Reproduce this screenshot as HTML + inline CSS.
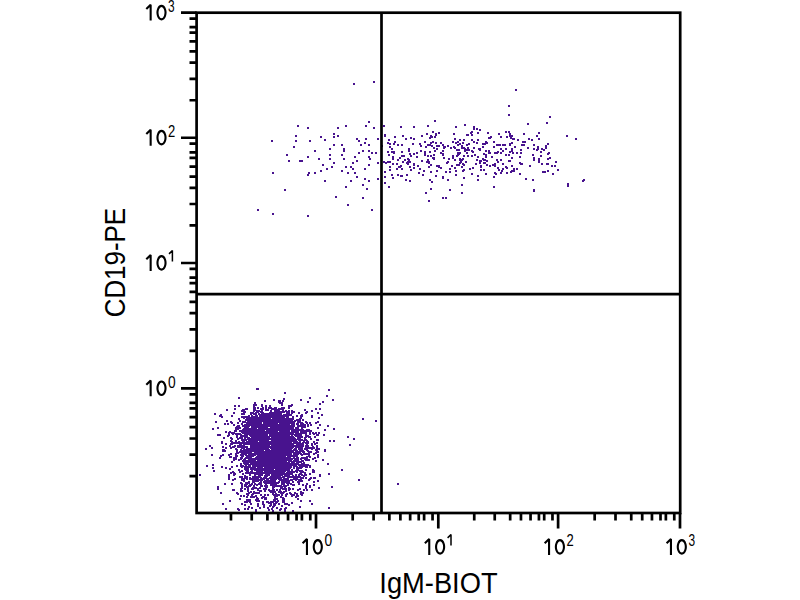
<!DOCTYPE html>
<html><head><meta charset="utf-8"><style>
html,body{margin:0;padding:0;background:#fff;width:800px;height:600px;overflow:hidden}
svg{display:block}
text{font-family:"Liberation Sans",sans-serif;fill:#000}
.big{font-size:22px}
.sup{font-size:15.3px}
.ax{font-size:28.8px}
</style></head><body>
<svg width="800" height="600" viewBox="0 0 800 600">
<path d="M199 474h2v2h-2zM205 448h2v2h-2zM206 465h2v2h-2zM209 445h2v2h-2zM211 447h2v2h-2zM211 454h2v2h-2zM212 428h2v2h-2zM212 464h2v2h-2zM212 467h2v2h-2zM213 470h2v2h-2zM214 413h2v2h-2zM215 421h2v2h-2zM217 427h2v2h-2zM217 434h2v2h-2zM217 486h2v2h-2zM217 488h2v2h-2zM219 415h2v2h-2zM219 434h2v2h-2zM219 457h2v2h-2zM220 414h2v2h-2zM220 455h2v2h-2zM220 492h2v2h-2zM221 416h2v2h-2zM221 441h2v2h-2zM221 442h2v2h-2zM221 466h2v2h-2zM222 446h2v2h-2zM222 449h2v2h-2zM222 450h2v2h-2zM222 454h2v2h-2zM222 503h2v2h-2zM223 437h2v2h-2zM223 449h2v2h-2zM224 423h2v2h-2zM224 450h2v2h-2zM224 483h2v2h-2zM225 431h2v2h-2zM225 443h2v2h-2zM225 447h2v2h-2zM225 467h2v2h-2zM225 508h2v2h-2zM226 409h2v2h-2zM226 420h2v2h-2zM227 423h2v2h-2zM227 435h2v2h-2zM228 432h2v2h-2zM228 434h2v2h-2zM228 454h2v2h-2zM228 474h2v2h-2zM228 476h2v2h-2zM228 478h2v2h-2zM229 431h2v2h-2zM229 445h2v2h-2zM229 456h2v2h-2zM229 468h2v2h-2zM229 500h2v2h-2zM230 421h2v2h-2zM230 437h2v2h-2zM230 440h2v2h-2zM230 443h2v2h-2zM230 447h2v2h-2zM230 453h2v2h-2zM230 456h2v2h-2zM230 472h2v2h-2zM231 415h2v2h-2zM231 422h2v2h-2zM231 432h2v2h-2zM231 438h2v2h-2zM231 441h2v2h-2zM231 443h2v2h-2zM231 461h2v2h-2zM231 466h2v2h-2zM231 483h2v2h-2zM232 433h2v2h-2zM232 446h2v2h-2zM232 471h2v2h-2zM232 479h2v2h-2zM232 489h2v2h-2zM233 412h2v2h-2zM233 424h2v2h-2zM233 432h2v2h-2zM233 442h2v2h-2zM233 446h2v2h-2zM233 457h2v2h-2zM233 459h2v2h-2zM233 472h2v2h-2zM233 474h2v2h-2zM233 489h2v2h-2zM234 405h2v2h-2zM234 408h2v2h-2zM234 430h2v2h-2zM234 445h2v2h-2zM234 457h2v2h-2zM234 473h2v2h-2zM234 478h2v2h-2zM235 427h2v2h-2zM235 428h2v2h-2zM235 430h2v2h-2zM235 433h2v2h-2zM235 440h2v2h-2zM235 441h2v2h-2zM235 442h2v2h-2zM235 448h2v2h-2zM235 453h2v2h-2zM235 455h2v2h-2zM235 456h2v2h-2zM235 458h2v2h-2zM236 426h2v2h-2zM236 434h2v2h-2zM236 436h2v2h-2zM236 449h2v2h-2zM236 451h2v2h-2zM236 455h2v2h-2zM236 465h2v2h-2zM236 492h2v2h-2zM237 422h2v2h-2zM237 425h2v2h-2zM237 428h2v2h-2zM237 433h2v2h-2zM237 438h2v2h-2zM237 442h2v2h-2zM237 445h2v2h-2zM237 446h2v2h-2zM237 452h2v2h-2zM237 493h2v2h-2zM237 508h2v2h-2zM238 397h2v2h-2zM238 405h2v2h-2zM238 418h2v2h-2zM238 425h2v2h-2zM238 426h2v2h-2zM238 441h2v2h-2zM238 459h2v2h-2zM238 469h2v2h-2zM238 509h2v2h-2zM239 420h2v2h-2zM239 427h2v2h-2zM239 430h2v2h-2zM239 433h2v2h-2zM239 437h2v2h-2zM239 442h2v2h-2zM239 443h2v2h-2zM239 445h2v2h-2zM239 446h2v2h-2zM239 451h2v2h-2zM239 471h2v2h-2zM239 476h2v2h-2zM239 498h2v2h-2zM240 430h2v2h-2zM240 434h2v2h-2zM240 435h2v2h-2zM240 442h2v2h-2zM240 443h2v2h-2zM240 444h2v2h-2zM240 446h2v2h-2zM240 449h2v2h-2zM240 454h2v2h-2zM240 457h2v2h-2zM240 458h2v2h-2zM240 463h2v2h-2zM240 464h2v2h-2zM240 465h2v2h-2zM240 482h2v2h-2zM240 488h2v2h-2zM240 490h2v2h-2zM240 495h2v2h-2zM241 410h2v2h-2zM241 413h2v2h-2zM241 416h2v2h-2zM241 423h2v2h-2zM241 430h2v2h-2zM241 431h2v2h-2zM241 435h2v2h-2zM241 436h2v2h-2zM241 437h2v2h-2zM241 438h2v2h-2zM241 439h2v2h-2zM241 447h2v2h-2zM241 450h2v2h-2zM241 452h2v2h-2zM241 456h2v2h-2zM241 457h2v2h-2zM241 466h2v2h-2zM241 470h2v2h-2zM241 476h2v2h-2zM241 478h2v2h-2zM241 479h2v2h-2zM241 483h2v2h-2zM241 485h2v2h-2zM241 487h2v2h-2zM241 490h2v2h-2zM241 503h2v2h-2zM242 409h2v2h-2zM242 421h2v2h-2zM242 425h2v2h-2zM242 429h2v2h-2zM242 430h2v2h-2zM242 431h2v2h-2zM242 432h2v2h-2zM242 435h2v2h-2zM242 439h2v2h-2zM242 440h2v2h-2zM242 441h2v2h-2zM242 442h2v2h-2zM242 445h2v2h-2zM242 446h2v2h-2zM242 447h2v2h-2zM242 450h2v2h-2zM242 453h2v2h-2zM242 455h2v2h-2zM242 460h2v2h-2zM242 465h2v2h-2zM242 473h2v2h-2zM243 409h2v2h-2zM243 411h2v2h-2zM243 413h2v2h-2zM243 416h2v2h-2zM243 417h2v2h-2zM243 428h2v2h-2zM243 430h2v2h-2zM243 440h2v2h-2zM243 441h2v2h-2zM243 444h2v2h-2zM243 446h2v2h-2zM243 448h2v2h-2zM243 449h2v2h-2zM243 452h2v2h-2zM243 453h2v2h-2zM243 459h2v2h-2zM243 460h2v2h-2zM243 462h2v2h-2zM243 478h2v2h-2zM243 480h2v2h-2zM243 495h2v2h-2zM244 411h2v2h-2zM244 421h2v2h-2zM244 424h2v2h-2zM244 426h2v2h-2zM244 427h2v2h-2zM244 431h2v2h-2zM244 432h2v2h-2zM244 434h2v2h-2zM244 436h2v2h-2zM244 438h2v2h-2zM244 442h2v2h-2zM244 443h2v2h-2zM244 450h2v2h-2zM244 452h2v2h-2zM244 458h2v2h-2zM244 460h2v2h-2zM244 461h2v2h-2zM244 462h2v2h-2zM244 463h2v2h-2zM244 466h2v2h-2zM244 468h2v2h-2zM244 475h2v2h-2zM244 477h2v2h-2zM244 484h2v2h-2zM244 485h2v2h-2zM244 488h2v2h-2zM244 501h2v2h-2zM244 504h2v2h-2zM244 508h2v2h-2zM245 408h2v2h-2zM245 416h2v2h-2zM245 419h2v2h-2zM245 424h2v2h-2zM245 425h2v2h-2zM245 426h2v2h-2zM245 429h2v2h-2zM245 431h2v2h-2zM245 434h2v2h-2zM245 436h2v2h-2zM245 439h2v2h-2zM245 443h2v2h-2zM245 446h2v2h-2zM245 449h2v2h-2zM245 450h2v2h-2zM245 451h2v2h-2zM245 454h2v2h-2zM245 457h2v2h-2zM245 460h2v2h-2zM245 464h2v2h-2zM245 466h2v2h-2zM245 467h2v2h-2zM245 468h2v2h-2zM245 469h2v2h-2zM245 472h2v2h-2zM245 482h2v2h-2zM245 484h2v2h-2zM246 408h2v2h-2zM246 417h2v2h-2zM246 422h2v2h-2zM246 423h2v2h-2zM246 424h2v2h-2zM246 425h2v2h-2zM246 427h2v2h-2zM246 428h2v2h-2zM246 429h2v2h-2zM246 430h2v2h-2zM246 432h2v2h-2zM246 433h2v2h-2zM246 434h2v2h-2zM246 435h2v2h-2zM246 436h2v2h-2zM246 441h2v2h-2zM246 442h2v2h-2zM246 443h2v2h-2zM246 446h2v2h-2zM246 447h2v2h-2zM246 449h2v2h-2zM246 450h2v2h-2zM246 451h2v2h-2zM246 452h2v2h-2zM246 455h2v2h-2zM246 457h2v2h-2zM246 460h2v2h-2zM246 462h2v2h-2zM246 463h2v2h-2zM246 467h2v2h-2zM246 470h2v2h-2zM246 472h2v2h-2zM246 476h2v2h-2zM246 478h2v2h-2zM246 483h2v2h-2zM246 486h2v2h-2zM246 493h2v2h-2zM246 496h2v2h-2zM246 499h2v2h-2zM246 501h2v2h-2zM247 416h2v2h-2zM247 417h2v2h-2zM247 419h2v2h-2zM247 420h2v2h-2zM247 423h2v2h-2zM247 425h2v2h-2zM247 427h2v2h-2zM247 430h2v2h-2zM247 431h2v2h-2zM247 438h2v2h-2zM247 442h2v2h-2zM247 443h2v2h-2zM247 449h2v2h-2zM247 450h2v2h-2zM247 452h2v2h-2zM247 455h2v2h-2zM247 456h2v2h-2zM247 457h2v2h-2zM247 461h2v2h-2zM247 462h2v2h-2zM247 463h2v2h-2zM247 466h2v2h-2zM247 467h2v2h-2zM247 469h2v2h-2zM247 470h2v2h-2zM247 471h2v2h-2zM247 472h2v2h-2zM247 482h2v2h-2zM247 486h2v2h-2zM247 488h2v2h-2zM247 490h2v2h-2zM247 494h2v2h-2zM247 499h2v2h-2zM247 500h2v2h-2zM247 508h2v2h-2zM248 415h2v2h-2zM248 417h2v2h-2zM248 420h2v2h-2zM248 422h2v2h-2zM248 425h2v2h-2zM248 429h2v2h-2zM248 430h2v2h-2zM248 431h2v2h-2zM248 433h2v2h-2zM248 437h2v2h-2zM248 438h2v2h-2zM248 440h2v2h-2zM248 442h2v2h-2zM248 448h2v2h-2zM248 449h2v2h-2zM248 450h2v2h-2zM248 451h2v2h-2zM248 452h2v2h-2zM248 453h2v2h-2zM248 454h2v2h-2zM248 455h2v2h-2zM248 456h2v2h-2zM248 457h2v2h-2zM248 459h2v2h-2zM248 460h2v2h-2zM248 464h2v2h-2zM248 465h2v2h-2zM248 481h2v2h-2zM248 482h2v2h-2zM248 485h2v2h-2zM248 492h2v2h-2zM248 506h2v2h-2zM249 417h2v2h-2zM249 418h2v2h-2zM249 422h2v2h-2zM249 423h2v2h-2zM249 428h2v2h-2zM249 429h2v2h-2zM249 430h2v2h-2zM249 433h2v2h-2zM249 434h2v2h-2zM249 438h2v2h-2zM249 439h2v2h-2zM249 443h2v2h-2zM249 448h2v2h-2zM249 449h2v2h-2zM249 451h2v2h-2zM249 453h2v2h-2zM249 454h2v2h-2zM249 455h2v2h-2zM249 456h2v2h-2zM249 457h2v2h-2zM249 460h2v2h-2zM249 461h2v2h-2zM249 464h2v2h-2zM249 465h2v2h-2zM249 466h2v2h-2zM249 472h2v2h-2zM249 473h2v2h-2zM249 474h2v2h-2zM249 477h2v2h-2zM249 478h2v2h-2zM249 484h2v2h-2zM249 485h2v2h-2zM249 499h2v2h-2zM249 501h2v2h-2zM250 412h2v2h-2zM250 413h2v2h-2zM250 418h2v2h-2zM250 420h2v2h-2zM250 421h2v2h-2zM250 422h2v2h-2zM250 423h2v2h-2zM250 424h2v2h-2zM250 428h2v2h-2zM250 429h2v2h-2zM250 430h2v2h-2zM250 431h2v2h-2zM250 435h2v2h-2zM250 441h2v2h-2zM250 445h2v2h-2zM250 446h2v2h-2zM250 448h2v2h-2zM250 450h2v2h-2zM250 451h2v2h-2zM250 453h2v2h-2zM250 455h2v2h-2zM250 456h2v2h-2zM250 457h2v2h-2zM250 458h2v2h-2zM250 460h2v2h-2zM250 461h2v2h-2zM250 463h2v2h-2zM250 468h2v2h-2zM250 471h2v2h-2zM250 472h2v2h-2zM250 484h2v2h-2zM250 491h2v2h-2zM250 496h2v2h-2zM250 503h2v2h-2zM251 415h2v2h-2zM251 416h2v2h-2zM251 419h2v2h-2zM251 421h2v2h-2zM251 423h2v2h-2zM251 425h2v2h-2zM251 426h2v2h-2zM251 428h2v2h-2zM251 429h2v2h-2zM251 430h2v2h-2zM251 432h2v2h-2zM251 433h2v2h-2zM251 434h2v2h-2zM251 437h2v2h-2zM251 438h2v2h-2zM251 440h2v2h-2zM251 441h2v2h-2zM251 442h2v2h-2zM251 443h2v2h-2zM251 445h2v2h-2zM251 446h2v2h-2zM251 447h2v2h-2zM251 448h2v2h-2zM251 455h2v2h-2zM251 458h2v2h-2zM251 460h2v2h-2zM251 461h2v2h-2zM251 462h2v2h-2zM251 467h2v2h-2zM251 470h2v2h-2zM251 472h2v2h-2zM251 478h2v2h-2zM251 483h2v2h-2zM251 488h2v2h-2zM251 494h2v2h-2zM251 496h2v2h-2zM251 507h2v2h-2zM252 412h2v2h-2zM252 416h2v2h-2zM252 417h2v2h-2zM252 418h2v2h-2zM252 420h2v2h-2zM252 421h2v2h-2zM252 423h2v2h-2zM252 425h2v2h-2zM252 426h2v2h-2zM252 429h2v2h-2zM252 430h2v2h-2zM252 431h2v2h-2zM252 432h2v2h-2zM252 433h2v2h-2zM252 434h2v2h-2zM252 435h2v2h-2zM252 436h2v2h-2zM252 439h2v2h-2zM252 440h2v2h-2zM252 442h2v2h-2zM252 443h2v2h-2zM252 445h2v2h-2zM252 446h2v2h-2zM252 447h2v2h-2zM252 448h2v2h-2zM252 450h2v2h-2zM252 453h2v2h-2zM252 454h2v2h-2zM252 455h2v2h-2zM252 458h2v2h-2zM252 459h2v2h-2zM252 461h2v2h-2zM252 462h2v2h-2zM252 464h2v2h-2zM252 465h2v2h-2zM252 466h2v2h-2zM252 467h2v2h-2zM252 468h2v2h-2zM252 476h2v2h-2zM252 480h2v2h-2zM252 481h2v2h-2zM252 487h2v2h-2zM252 488h2v2h-2zM252 493h2v2h-2zM253 404h2v2h-2zM253 406h2v2h-2zM253 407h2v2h-2zM253 408h2v2h-2zM253 410h2v2h-2zM253 413h2v2h-2zM253 416h2v2h-2zM253 417h2v2h-2zM253 418h2v2h-2zM253 419h2v2h-2zM253 420h2v2h-2zM253 421h2v2h-2zM253 422h2v2h-2zM253 423h2v2h-2zM253 424h2v2h-2zM253 426h2v2h-2zM253 427h2v2h-2zM253 429h2v2h-2zM253 431h2v2h-2zM253 432h2v2h-2zM253 435h2v2h-2zM253 436h2v2h-2zM253 437h2v2h-2zM253 438h2v2h-2zM253 443h2v2h-2zM253 444h2v2h-2zM253 445h2v2h-2zM253 446h2v2h-2zM253 447h2v2h-2zM253 453h2v2h-2zM253 454h2v2h-2zM253 459h2v2h-2zM253 463h2v2h-2zM253 468h2v2h-2zM253 472h2v2h-2zM253 477h2v2h-2zM253 479h2v2h-2zM253 480h2v2h-2zM253 481h2v2h-2zM253 485h2v2h-2zM253 487h2v2h-2zM253 491h2v2h-2zM253 496h2v2h-2zM254 402h2v2h-2zM254 407h2v2h-2zM254 409h2v2h-2zM254 417h2v2h-2zM254 418h2v2h-2zM254 420h2v2h-2zM254 422h2v2h-2zM254 423h2v2h-2zM254 424h2v2h-2zM254 425h2v2h-2zM254 426h2v2h-2zM254 428h2v2h-2zM254 429h2v2h-2zM254 430h2v2h-2zM254 432h2v2h-2zM254 433h2v2h-2zM254 434h2v2h-2zM254 435h2v2h-2zM254 436h2v2h-2zM254 437h2v2h-2zM254 439h2v2h-2zM254 440h2v2h-2zM254 441h2v2h-2zM254 442h2v2h-2zM254 443h2v2h-2zM254 445h2v2h-2zM254 446h2v2h-2zM254 447h2v2h-2zM254 448h2v2h-2zM254 450h2v2h-2zM254 451h2v2h-2zM254 452h2v2h-2zM254 453h2v2h-2zM254 454h2v2h-2zM254 458h2v2h-2zM254 459h2v2h-2zM254 461h2v2h-2zM254 462h2v2h-2zM254 463h2v2h-2zM254 464h2v2h-2zM254 466h2v2h-2zM254 467h2v2h-2zM254 468h2v2h-2zM254 469h2v2h-2zM254 474h2v2h-2zM254 476h2v2h-2zM254 477h2v2h-2zM254 483h2v2h-2zM254 492h2v2h-2zM255 404h2v2h-2zM255 412h2v2h-2zM255 413h2v2h-2zM255 414h2v2h-2zM255 416h2v2h-2zM255 420h2v2h-2zM255 421h2v2h-2zM255 422h2v2h-2zM255 424h2v2h-2zM255 425h2v2h-2zM255 426h2v2h-2zM255 428h2v2h-2zM255 430h2v2h-2zM255 431h2v2h-2zM255 433h2v2h-2zM255 434h2v2h-2zM255 438h2v2h-2zM255 439h2v2h-2zM255 442h2v2h-2zM255 443h2v2h-2zM255 444h2v2h-2zM255 445h2v2h-2zM255 446h2v2h-2zM255 449h2v2h-2zM255 450h2v2h-2zM255 451h2v2h-2zM255 452h2v2h-2zM255 457h2v2h-2zM255 463h2v2h-2zM255 464h2v2h-2zM255 465h2v2h-2zM255 468h2v2h-2zM255 469h2v2h-2zM255 472h2v2h-2zM255 476h2v2h-2zM255 478h2v2h-2zM255 479h2v2h-2zM255 480h2v2h-2zM255 487h2v2h-2zM255 495h2v2h-2zM255 499h2v2h-2zM255 509h2v2h-2zM255 510h2v2h-2zM256 388h2v2h-2zM256 410h2v2h-2zM256 415h2v2h-2zM256 417h2v2h-2zM256 419h2v2h-2zM256 420h2v2h-2zM256 421h2v2h-2zM256 422h2v2h-2zM256 424h2v2h-2zM256 425h2v2h-2zM256 429h2v2h-2zM256 430h2v2h-2zM256 432h2v2h-2zM256 433h2v2h-2zM256 434h2v2h-2zM256 435h2v2h-2zM256 436h2v2h-2zM256 438h2v2h-2zM256 439h2v2h-2zM256 440h2v2h-2zM256 444h2v2h-2zM256 446h2v2h-2zM256 447h2v2h-2zM256 450h2v2h-2zM256 452h2v2h-2zM256 453h2v2h-2zM256 456h2v2h-2zM256 457h2v2h-2zM256 458h2v2h-2zM256 461h2v2h-2zM256 462h2v2h-2zM256 463h2v2h-2zM256 468h2v2h-2zM256 471h2v2h-2zM256 472h2v2h-2zM256 473h2v2h-2zM256 476h2v2h-2zM256 477h2v2h-2zM256 478h2v2h-2zM256 480h2v2h-2zM256 484h2v2h-2zM256 492h2v2h-2zM256 497h2v2h-2zM256 500h2v2h-2zM257 209h2v2h-2zM257 388h2v2h-2zM257 407h2v2h-2zM257 411h2v2h-2zM257 418h2v2h-2zM257 420h2v2h-2zM257 421h2v2h-2zM257 423h2v2h-2zM257 425h2v2h-2zM257 426h2v2h-2zM257 429h2v2h-2zM257 431h2v2h-2zM257 432h2v2h-2zM257 434h2v2h-2zM257 435h2v2h-2zM257 437h2v2h-2zM257 438h2v2h-2zM257 442h2v2h-2zM257 443h2v2h-2zM257 444h2v2h-2zM257 446h2v2h-2zM257 448h2v2h-2zM257 449h2v2h-2zM257 451h2v2h-2zM257 452h2v2h-2zM257 454h2v2h-2zM257 455h2v2h-2zM257 456h2v2h-2zM257 457h2v2h-2zM257 458h2v2h-2zM257 459h2v2h-2zM257 460h2v2h-2zM257 463h2v2h-2zM257 464h2v2h-2zM257 465h2v2h-2zM257 467h2v2h-2zM257 469h2v2h-2zM257 478h2v2h-2zM257 479h2v2h-2zM257 480h2v2h-2zM257 488h2v2h-2zM257 489h2v2h-2zM257 498h2v2h-2zM257 503h2v2h-2zM257 505h2v2h-2zM258 410h2v2h-2zM258 413h2v2h-2zM258 417h2v2h-2zM258 418h2v2h-2zM258 419h2v2h-2zM258 420h2v2h-2zM258 421h2v2h-2zM258 423h2v2h-2zM258 428h2v2h-2zM258 430h2v2h-2zM258 431h2v2h-2zM258 433h2v2h-2zM258 435h2v2h-2zM258 436h2v2h-2zM258 437h2v2h-2zM258 438h2v2h-2zM258 439h2v2h-2zM258 442h2v2h-2zM258 443h2v2h-2zM258 444h2v2h-2zM258 446h2v2h-2zM258 448h2v2h-2zM258 449h2v2h-2zM258 452h2v2h-2zM258 455h2v2h-2zM258 456h2v2h-2zM258 461h2v2h-2zM258 463h2v2h-2zM258 464h2v2h-2zM258 465h2v2h-2zM258 466h2v2h-2zM258 467h2v2h-2zM258 470h2v2h-2zM258 471h2v2h-2zM258 473h2v2h-2zM258 474h2v2h-2zM258 476h2v2h-2zM258 483h2v2h-2zM258 492h2v2h-2zM258 500h2v2h-2zM259 414h2v2h-2zM259 416h2v2h-2zM259 417h2v2h-2zM259 418h2v2h-2zM259 419h2v2h-2zM259 420h2v2h-2zM259 422h2v2h-2zM259 425h2v2h-2zM259 426h2v2h-2zM259 427h2v2h-2zM259 428h2v2h-2zM259 430h2v2h-2zM259 431h2v2h-2zM259 432h2v2h-2zM259 433h2v2h-2zM259 434h2v2h-2zM259 435h2v2h-2zM259 438h2v2h-2zM259 439h2v2h-2zM259 440h2v2h-2zM259 441h2v2h-2zM259 442h2v2h-2zM259 443h2v2h-2zM259 445h2v2h-2zM259 448h2v2h-2zM259 449h2v2h-2zM259 451h2v2h-2zM259 454h2v2h-2zM259 456h2v2h-2zM259 458h2v2h-2zM259 459h2v2h-2zM259 460h2v2h-2zM259 461h2v2h-2zM259 462h2v2h-2zM259 463h2v2h-2zM259 464h2v2h-2zM259 465h2v2h-2zM259 467h2v2h-2zM259 468h2v2h-2zM259 469h2v2h-2zM259 470h2v2h-2zM259 472h2v2h-2zM259 474h2v2h-2zM259 476h2v2h-2zM259 479h2v2h-2zM259 482h2v2h-2zM259 487h2v2h-2zM259 490h2v2h-2zM259 507h2v2h-2zM260 408h2v2h-2zM260 411h2v2h-2zM260 414h2v2h-2zM260 415h2v2h-2zM260 416h2v2h-2zM260 422h2v2h-2zM260 423h2v2h-2zM260 424h2v2h-2zM260 425h2v2h-2zM260 427h2v2h-2zM260 428h2v2h-2zM260 429h2v2h-2zM260 433h2v2h-2zM260 434h2v2h-2zM260 435h2v2h-2zM260 437h2v2h-2zM260 438h2v2h-2zM260 439h2v2h-2zM260 440h2v2h-2zM260 441h2v2h-2zM260 444h2v2h-2zM260 445h2v2h-2zM260 446h2v2h-2zM260 447h2v2h-2zM260 448h2v2h-2zM260 450h2v2h-2zM260 451h2v2h-2zM260 452h2v2h-2zM260 453h2v2h-2zM260 455h2v2h-2zM260 456h2v2h-2zM260 457h2v2h-2zM260 458h2v2h-2zM260 461h2v2h-2zM260 463h2v2h-2zM260 464h2v2h-2zM260 468h2v2h-2zM260 469h2v2h-2zM260 470h2v2h-2zM260 471h2v2h-2zM260 473h2v2h-2zM260 477h2v2h-2zM260 481h2v2h-2zM260 483h2v2h-2zM260 485h2v2h-2zM260 490h2v2h-2zM260 494h2v2h-2zM261 404h2v2h-2zM261 405h2v2h-2zM261 410h2v2h-2zM261 412h2v2h-2zM261 413h2v2h-2zM261 415h2v2h-2zM261 416h2v2h-2zM261 418h2v2h-2zM261 419h2v2h-2zM261 420h2v2h-2zM261 424h2v2h-2zM261 425h2v2h-2zM261 427h2v2h-2zM261 429h2v2h-2zM261 430h2v2h-2zM261 431h2v2h-2zM261 434h2v2h-2zM261 436h2v2h-2zM261 437h2v2h-2zM261 438h2v2h-2zM261 439h2v2h-2zM261 440h2v2h-2zM261 443h2v2h-2zM261 445h2v2h-2zM261 446h2v2h-2zM261 447h2v2h-2zM261 448h2v2h-2zM261 449h2v2h-2zM261 451h2v2h-2zM261 452h2v2h-2zM261 453h2v2h-2zM261 454h2v2h-2zM261 455h2v2h-2zM261 456h2v2h-2zM261 457h2v2h-2zM261 459h2v2h-2zM261 460h2v2h-2zM261 461h2v2h-2zM261 462h2v2h-2zM261 463h2v2h-2zM261 464h2v2h-2zM261 465h2v2h-2zM261 467h2v2h-2zM261 471h2v2h-2zM261 474h2v2h-2zM261 479h2v2h-2zM261 485h2v2h-2zM261 497h2v2h-2zM262 407h2v2h-2zM262 408h2v2h-2zM262 412h2v2h-2zM262 417h2v2h-2zM262 418h2v2h-2zM262 420h2v2h-2zM262 424h2v2h-2zM262 425h2v2h-2zM262 426h2v2h-2zM262 427h2v2h-2zM262 428h2v2h-2zM262 429h2v2h-2zM262 430h2v2h-2zM262 431h2v2h-2zM262 432h2v2h-2zM262 433h2v2h-2zM262 434h2v2h-2zM262 436h2v2h-2zM262 437h2v2h-2zM262 439h2v2h-2zM262 440h2v2h-2zM262 441h2v2h-2zM262 443h2v2h-2zM262 444h2v2h-2zM262 445h2v2h-2zM262 446h2v2h-2zM262 447h2v2h-2zM262 448h2v2h-2zM262 449h2v2h-2zM262 450h2v2h-2zM262 451h2v2h-2zM262 452h2v2h-2zM262 453h2v2h-2zM262 454h2v2h-2zM262 455h2v2h-2zM262 456h2v2h-2zM262 457h2v2h-2zM262 458h2v2h-2zM262 468h2v2h-2zM262 469h2v2h-2zM262 472h2v2h-2zM262 478h2v2h-2zM262 496h2v2h-2zM262 501h2v2h-2zM262 503h2v2h-2zM263 413h2v2h-2zM263 414h2v2h-2zM263 415h2v2h-2zM263 416h2v2h-2zM263 417h2v2h-2zM263 418h2v2h-2zM263 421h2v2h-2zM263 423h2v2h-2zM263 424h2v2h-2zM263 425h2v2h-2zM263 426h2v2h-2zM263 427h2v2h-2zM263 429h2v2h-2zM263 430h2v2h-2zM263 431h2v2h-2zM263 432h2v2h-2zM263 434h2v2h-2zM263 435h2v2h-2zM263 437h2v2h-2zM263 439h2v2h-2zM263 441h2v2h-2zM263 442h2v2h-2zM263 444h2v2h-2zM263 445h2v2h-2zM263 446h2v2h-2zM263 448h2v2h-2zM263 451h2v2h-2zM263 452h2v2h-2zM263 453h2v2h-2zM263 454h2v2h-2zM263 455h2v2h-2zM263 456h2v2h-2zM263 457h2v2h-2zM263 458h2v2h-2zM263 460h2v2h-2zM263 461h2v2h-2zM263 462h2v2h-2zM263 464h2v2h-2zM263 465h2v2h-2zM263 468h2v2h-2zM263 477h2v2h-2zM263 478h2v2h-2zM263 481h2v2h-2zM263 488h2v2h-2zM263 496h2v2h-2zM263 504h2v2h-2zM263 505h2v2h-2zM263 506h2v2h-2zM264 400h2v2h-2zM264 413h2v2h-2zM264 414h2v2h-2zM264 415h2v2h-2zM264 418h2v2h-2zM264 420h2v2h-2zM264 421h2v2h-2zM264 422h2v2h-2zM264 423h2v2h-2zM264 426h2v2h-2zM264 428h2v2h-2zM264 431h2v2h-2zM264 433h2v2h-2zM264 434h2v2h-2zM264 435h2v2h-2zM264 436h2v2h-2zM264 437h2v2h-2zM264 439h2v2h-2zM264 440h2v2h-2zM264 442h2v2h-2zM264 443h2v2h-2zM264 447h2v2h-2zM264 451h2v2h-2zM264 452h2v2h-2zM264 453h2v2h-2zM264 454h2v2h-2zM264 455h2v2h-2zM264 456h2v2h-2zM264 457h2v2h-2zM264 458h2v2h-2zM264 459h2v2h-2zM264 461h2v2h-2zM264 463h2v2h-2zM264 466h2v2h-2zM264 467h2v2h-2zM264 468h2v2h-2zM264 470h2v2h-2zM264 471h2v2h-2zM264 472h2v2h-2zM264 475h2v2h-2zM264 477h2v2h-2zM264 480h2v2h-2zM264 481h2v2h-2zM264 482h2v2h-2zM264 485h2v2h-2zM264 490h2v2h-2zM264 494h2v2h-2zM264 498h2v2h-2zM265 405h2v2h-2zM265 407h2v2h-2zM265 409h2v2h-2zM265 413h2v2h-2zM265 416h2v2h-2zM265 419h2v2h-2zM265 423h2v2h-2zM265 424h2v2h-2zM265 426h2v2h-2zM265 427h2v2h-2zM265 428h2v2h-2zM265 431h2v2h-2zM265 433h2v2h-2zM265 434h2v2h-2zM265 435h2v2h-2zM265 436h2v2h-2zM265 438h2v2h-2zM265 439h2v2h-2zM265 440h2v2h-2zM265 441h2v2h-2zM265 442h2v2h-2zM265 443h2v2h-2zM265 444h2v2h-2zM265 446h2v2h-2zM265 447h2v2h-2zM265 449h2v2h-2zM265 450h2v2h-2zM265 451h2v2h-2zM265 452h2v2h-2zM265 453h2v2h-2zM265 454h2v2h-2zM265 456h2v2h-2zM265 457h2v2h-2zM265 458h2v2h-2zM265 460h2v2h-2zM265 461h2v2h-2zM265 463h2v2h-2zM265 464h2v2h-2zM265 465h2v2h-2zM265 466h2v2h-2zM265 467h2v2h-2zM265 468h2v2h-2zM265 471h2v2h-2zM265 472h2v2h-2zM265 473h2v2h-2zM265 474h2v2h-2zM265 476h2v2h-2zM265 477h2v2h-2zM265 480h2v2h-2zM265 481h2v2h-2zM265 482h2v2h-2zM265 483h2v2h-2zM265 484h2v2h-2zM265 486h2v2h-2zM265 488h2v2h-2zM265 497h2v2h-2zM265 498h2v2h-2zM266 414h2v2h-2zM266 418h2v2h-2zM266 419h2v2h-2zM266 421h2v2h-2zM266 422h2v2h-2zM266 423h2v2h-2zM266 424h2v2h-2zM266 426h2v2h-2zM266 427h2v2h-2zM266 428h2v2h-2zM266 430h2v2h-2zM266 431h2v2h-2zM266 432h2v2h-2zM266 434h2v2h-2zM266 435h2v2h-2zM266 436h2v2h-2zM266 437h2v2h-2zM266 438h2v2h-2zM266 440h2v2h-2zM266 441h2v2h-2zM266 442h2v2h-2zM266 443h2v2h-2zM266 445h2v2h-2zM266 446h2v2h-2zM266 447h2v2h-2zM266 448h2v2h-2zM266 450h2v2h-2zM266 451h2v2h-2zM266 452h2v2h-2zM266 453h2v2h-2zM266 454h2v2h-2zM266 455h2v2h-2zM266 457h2v2h-2zM266 458h2v2h-2zM266 459h2v2h-2zM266 460h2v2h-2zM266 461h2v2h-2zM266 462h2v2h-2zM266 463h2v2h-2zM266 466h2v2h-2zM266 467h2v2h-2zM266 470h2v2h-2zM266 473h2v2h-2zM266 474h2v2h-2zM266 475h2v2h-2zM266 479h2v2h-2zM266 480h2v2h-2zM266 485h2v2h-2zM266 486h2v2h-2zM266 501h2v2h-2zM267 409h2v2h-2zM267 413h2v2h-2zM267 415h2v2h-2zM267 417h2v2h-2zM267 418h2v2h-2zM267 419h2v2h-2zM267 420h2v2h-2zM267 421h2v2h-2zM267 423h2v2h-2zM267 424h2v2h-2zM267 428h2v2h-2zM267 429h2v2h-2zM267 432h2v2h-2zM267 436h2v2h-2zM267 437h2v2h-2zM267 438h2v2h-2zM267 440h2v2h-2zM267 441h2v2h-2zM267 442h2v2h-2zM267 443h2v2h-2zM267 445h2v2h-2zM267 446h2v2h-2zM267 447h2v2h-2zM267 448h2v2h-2zM267 449h2v2h-2zM267 451h2v2h-2zM267 452h2v2h-2zM267 454h2v2h-2zM267 456h2v2h-2zM267 458h2v2h-2zM267 460h2v2h-2zM267 461h2v2h-2zM267 462h2v2h-2zM267 464h2v2h-2zM267 466h2v2h-2zM267 467h2v2h-2zM267 468h2v2h-2zM267 470h2v2h-2zM267 471h2v2h-2zM267 472h2v2h-2zM267 474h2v2h-2zM267 478h2v2h-2zM267 480h2v2h-2zM267 481h2v2h-2zM267 482h2v2h-2zM267 494h2v2h-2zM267 501h2v2h-2zM267 507h2v2h-2zM268 407h2v2h-2zM268 415h2v2h-2zM268 416h2v2h-2zM268 417h2v2h-2zM268 419h2v2h-2zM268 420h2v2h-2zM268 421h2v2h-2zM268 423h2v2h-2zM268 424h2v2h-2zM268 425h2v2h-2zM268 428h2v2h-2zM268 429h2v2h-2zM268 430h2v2h-2zM268 436h2v2h-2zM268 437h2v2h-2zM268 438h2v2h-2zM268 441h2v2h-2zM268 442h2v2h-2zM268 443h2v2h-2zM268 444h2v2h-2zM268 445h2v2h-2zM268 446h2v2h-2zM268 449h2v2h-2zM268 450h2v2h-2zM268 451h2v2h-2zM268 452h2v2h-2zM268 454h2v2h-2zM268 455h2v2h-2zM268 456h2v2h-2zM268 457h2v2h-2zM268 458h2v2h-2zM268 459h2v2h-2zM268 463h2v2h-2zM268 464h2v2h-2zM268 465h2v2h-2zM268 466h2v2h-2zM268 468h2v2h-2zM268 469h2v2h-2zM268 470h2v2h-2zM268 472h2v2h-2zM268 473h2v2h-2zM268 474h2v2h-2zM268 480h2v2h-2zM268 489h2v2h-2zM268 502h2v2h-2zM268 509h2v2h-2zM269 405h2v2h-2zM269 412h2v2h-2zM269 413h2v2h-2zM269 415h2v2h-2zM269 416h2v2h-2zM269 417h2v2h-2zM269 420h2v2h-2zM269 421h2v2h-2zM269 422h2v2h-2zM269 423h2v2h-2zM269 425h2v2h-2zM269 428h2v2h-2zM269 429h2v2h-2zM269 430h2v2h-2zM269 431h2v2h-2zM269 432h2v2h-2zM269 433h2v2h-2zM269 434h2v2h-2zM269 435h2v2h-2zM269 438h2v2h-2zM269 443h2v2h-2zM269 450h2v2h-2zM269 455h2v2h-2zM269 456h2v2h-2zM269 459h2v2h-2zM269 460h2v2h-2zM269 461h2v2h-2zM269 466h2v2h-2zM269 467h2v2h-2zM269 469h2v2h-2zM269 470h2v2h-2zM269 477h2v2h-2zM269 480h2v2h-2zM269 482h2v2h-2zM269 490h2v2h-2zM269 505h2v2h-2zM270 407h2v2h-2zM270 410h2v2h-2zM270 413h2v2h-2zM270 414h2v2h-2zM270 416h2v2h-2zM270 419h2v2h-2zM270 421h2v2h-2zM270 422h2v2h-2zM270 425h2v2h-2zM270 426h2v2h-2zM270 427h2v2h-2zM270 428h2v2h-2zM270 429h2v2h-2zM270 430h2v2h-2zM270 431h2v2h-2zM270 433h2v2h-2zM270 434h2v2h-2zM270 435h2v2h-2zM270 438h2v2h-2zM270 441h2v2h-2zM270 442h2v2h-2zM270 446h2v2h-2zM270 447h2v2h-2zM270 451h2v2h-2zM270 452h2v2h-2zM270 453h2v2h-2zM270 454h2v2h-2zM270 455h2v2h-2zM270 456h2v2h-2zM270 458h2v2h-2zM270 459h2v2h-2zM270 462h2v2h-2zM270 463h2v2h-2zM270 465h2v2h-2zM270 466h2v2h-2zM270 468h2v2h-2zM270 470h2v2h-2zM270 472h2v2h-2zM270 476h2v2h-2zM270 477h2v2h-2zM270 479h2v2h-2zM270 481h2v2h-2zM270 483h2v2h-2zM270 484h2v2h-2zM270 491h2v2h-2zM270 501h2v2h-2zM270 502h2v2h-2zM270 504h2v2h-2zM271 140h2v2h-2zM271 408h2v2h-2zM271 412h2v2h-2zM271 415h2v2h-2zM271 420h2v2h-2zM271 423h2v2h-2zM271 424h2v2h-2zM271 425h2v2h-2zM271 427h2v2h-2zM271 429h2v2h-2zM271 430h2v2h-2zM271 432h2v2h-2zM271 434h2v2h-2zM271 436h2v2h-2zM271 437h2v2h-2zM271 439h2v2h-2zM271 440h2v2h-2zM271 441h2v2h-2zM271 442h2v2h-2zM271 443h2v2h-2zM271 444h2v2h-2zM271 446h2v2h-2zM271 448h2v2h-2zM271 450h2v2h-2zM271 451h2v2h-2zM271 455h2v2h-2zM271 456h2v2h-2zM271 457h2v2h-2zM271 458h2v2h-2zM271 459h2v2h-2zM271 460h2v2h-2zM271 462h2v2h-2zM271 463h2v2h-2zM271 464h2v2h-2zM271 465h2v2h-2zM271 467h2v2h-2zM271 468h2v2h-2zM271 470h2v2h-2zM271 472h2v2h-2zM271 473h2v2h-2zM271 474h2v2h-2zM271 476h2v2h-2zM271 480h2v2h-2zM271 481h2v2h-2zM271 490h2v2h-2zM271 491h2v2h-2zM271 501h2v2h-2zM271 508h2v2h-2zM272 172h2v2h-2zM272 213h2v2h-2zM272 412h2v2h-2zM272 413h2v2h-2zM272 414h2v2h-2zM272 416h2v2h-2zM272 418h2v2h-2zM272 419h2v2h-2zM272 420h2v2h-2zM272 421h2v2h-2zM272 423h2v2h-2zM272 426h2v2h-2zM272 427h2v2h-2zM272 428h2v2h-2zM272 431h2v2h-2zM272 433h2v2h-2zM272 434h2v2h-2zM272 435h2v2h-2zM272 437h2v2h-2zM272 438h2v2h-2zM272 439h2v2h-2zM272 441h2v2h-2zM272 442h2v2h-2zM272 443h2v2h-2zM272 447h2v2h-2zM272 448h2v2h-2zM272 449h2v2h-2zM272 450h2v2h-2zM272 451h2v2h-2zM272 452h2v2h-2zM272 453h2v2h-2zM272 454h2v2h-2zM272 455h2v2h-2zM272 457h2v2h-2zM272 458h2v2h-2zM272 459h2v2h-2zM272 460h2v2h-2zM272 461h2v2h-2zM272 462h2v2h-2zM272 463h2v2h-2zM272 464h2v2h-2zM272 465h2v2h-2zM272 466h2v2h-2zM272 467h2v2h-2zM272 468h2v2h-2zM272 470h2v2h-2zM272 471h2v2h-2zM272 472h2v2h-2zM272 474h2v2h-2zM272 475h2v2h-2zM272 477h2v2h-2zM272 479h2v2h-2zM272 481h2v2h-2zM272 482h2v2h-2zM272 483h2v2h-2zM272 484h2v2h-2zM272 486h2v2h-2zM272 488h2v2h-2zM272 492h2v2h-2zM272 493h2v2h-2zM272 501h2v2h-2zM272 506h2v2h-2zM272 510h2v2h-2zM273 399h2v2h-2zM273 408h2v2h-2zM273 413h2v2h-2zM273 415h2v2h-2zM273 416h2v2h-2zM273 418h2v2h-2zM273 419h2v2h-2zM273 420h2v2h-2zM273 422h2v2h-2zM273 423h2v2h-2zM273 424h2v2h-2zM273 425h2v2h-2zM273 426h2v2h-2zM273 427h2v2h-2zM273 429h2v2h-2zM273 430h2v2h-2zM273 432h2v2h-2zM273 433h2v2h-2zM273 436h2v2h-2zM273 438h2v2h-2zM273 439h2v2h-2zM273 440h2v2h-2zM273 442h2v2h-2zM273 444h2v2h-2zM273 445h2v2h-2zM273 447h2v2h-2zM273 448h2v2h-2zM273 449h2v2h-2zM273 451h2v2h-2zM273 452h2v2h-2zM273 453h2v2h-2zM273 454h2v2h-2zM273 455h2v2h-2zM273 456h2v2h-2zM273 458h2v2h-2zM273 461h2v2h-2zM273 462h2v2h-2zM273 463h2v2h-2zM273 464h2v2h-2zM273 467h2v2h-2zM273 470h2v2h-2zM273 473h2v2h-2zM273 474h2v2h-2zM273 477h2v2h-2zM273 478h2v2h-2zM273 480h2v2h-2zM273 481h2v2h-2zM273 482h2v2h-2zM273 483h2v2h-2zM273 484h2v2h-2zM273 485h2v2h-2zM273 486h2v2h-2zM273 489h2v2h-2zM273 491h2v2h-2zM273 494h2v2h-2zM273 499h2v2h-2zM273 503h2v2h-2zM273 505h2v2h-2zM274 407h2v2h-2zM274 408h2v2h-2zM274 410h2v2h-2zM274 412h2v2h-2zM274 413h2v2h-2zM274 415h2v2h-2zM274 416h2v2h-2zM274 417h2v2h-2zM274 418h2v2h-2zM274 419h2v2h-2zM274 421h2v2h-2zM274 422h2v2h-2zM274 423h2v2h-2zM274 424h2v2h-2zM274 426h2v2h-2zM274 428h2v2h-2zM274 431h2v2h-2zM274 432h2v2h-2zM274 433h2v2h-2zM274 434h2v2h-2zM274 435h2v2h-2zM274 438h2v2h-2zM274 439h2v2h-2zM274 440h2v2h-2zM274 441h2v2h-2zM274 442h2v2h-2zM274 443h2v2h-2zM274 445h2v2h-2zM274 446h2v2h-2zM274 447h2v2h-2zM274 450h2v2h-2zM274 452h2v2h-2zM274 454h2v2h-2zM274 455h2v2h-2zM274 456h2v2h-2zM274 457h2v2h-2zM274 459h2v2h-2zM274 460h2v2h-2zM274 461h2v2h-2zM274 462h2v2h-2zM274 463h2v2h-2zM274 464h2v2h-2zM274 465h2v2h-2zM274 466h2v2h-2zM274 467h2v2h-2zM274 470h2v2h-2zM274 471h2v2h-2zM274 472h2v2h-2zM274 473h2v2h-2zM274 474h2v2h-2zM274 475h2v2h-2zM274 476h2v2h-2zM274 478h2v2h-2zM274 480h2v2h-2zM274 482h2v2h-2zM274 484h2v2h-2zM274 485h2v2h-2zM274 491h2v2h-2zM274 495h2v2h-2zM274 496h2v2h-2zM274 498h2v2h-2zM274 500h2v2h-2zM274 504h2v2h-2zM275 407h2v2h-2zM275 410h2v2h-2zM275 412h2v2h-2zM275 413h2v2h-2zM275 419h2v2h-2zM275 420h2v2h-2zM275 423h2v2h-2zM275 424h2v2h-2zM275 425h2v2h-2zM275 426h2v2h-2zM275 427h2v2h-2zM275 428h2v2h-2zM275 429h2v2h-2zM275 430h2v2h-2zM275 431h2v2h-2zM275 433h2v2h-2zM275 434h2v2h-2zM275 435h2v2h-2zM275 436h2v2h-2zM275 437h2v2h-2zM275 438h2v2h-2zM275 439h2v2h-2zM275 442h2v2h-2zM275 443h2v2h-2zM275 444h2v2h-2zM275 446h2v2h-2zM275 449h2v2h-2zM275 450h2v2h-2zM275 451h2v2h-2zM275 452h2v2h-2zM275 453h2v2h-2zM275 457h2v2h-2zM275 459h2v2h-2zM275 460h2v2h-2zM275 461h2v2h-2zM275 465h2v2h-2zM275 466h2v2h-2zM275 467h2v2h-2zM275 468h2v2h-2zM275 469h2v2h-2zM275 470h2v2h-2zM275 472h2v2h-2zM275 474h2v2h-2zM275 475h2v2h-2zM275 476h2v2h-2zM275 478h2v2h-2zM275 484h2v2h-2zM275 493h2v2h-2zM275 502h2v2h-2zM276 409h2v2h-2zM276 410h2v2h-2zM276 415h2v2h-2zM276 416h2v2h-2zM276 418h2v2h-2zM276 420h2v2h-2zM276 421h2v2h-2zM276 423h2v2h-2zM276 425h2v2h-2zM276 426h2v2h-2zM276 427h2v2h-2zM276 428h2v2h-2zM276 429h2v2h-2zM276 431h2v2h-2zM276 432h2v2h-2zM276 434h2v2h-2zM276 435h2v2h-2zM276 436h2v2h-2zM276 437h2v2h-2zM276 438h2v2h-2zM276 439h2v2h-2zM276 440h2v2h-2zM276 441h2v2h-2zM276 442h2v2h-2zM276 443h2v2h-2zM276 444h2v2h-2zM276 445h2v2h-2zM276 446h2v2h-2zM276 447h2v2h-2zM276 448h2v2h-2zM276 449h2v2h-2zM276 451h2v2h-2zM276 452h2v2h-2zM276 453h2v2h-2zM276 454h2v2h-2zM276 455h2v2h-2zM276 457h2v2h-2zM276 458h2v2h-2zM276 459h2v2h-2zM276 460h2v2h-2zM276 461h2v2h-2zM276 462h2v2h-2zM276 463h2v2h-2zM276 465h2v2h-2zM276 466h2v2h-2zM276 468h2v2h-2zM276 473h2v2h-2zM276 482h2v2h-2zM276 485h2v2h-2zM276 489h2v2h-2zM276 494h2v2h-2zM276 495h2v2h-2zM276 498h2v2h-2zM276 501h2v2h-2zM276 507h2v2h-2zM277 411h2v2h-2zM277 412h2v2h-2zM277 414h2v2h-2zM277 415h2v2h-2zM277 417h2v2h-2zM277 418h2v2h-2zM277 419h2v2h-2zM277 420h2v2h-2zM277 424h2v2h-2zM277 425h2v2h-2zM277 426h2v2h-2zM277 427h2v2h-2zM277 428h2v2h-2zM277 429h2v2h-2zM277 432h2v2h-2zM277 434h2v2h-2zM277 435h2v2h-2zM277 437h2v2h-2zM277 439h2v2h-2zM277 440h2v2h-2zM277 441h2v2h-2zM277 443h2v2h-2zM277 445h2v2h-2zM277 446h2v2h-2zM277 449h2v2h-2zM277 450h2v2h-2zM277 451h2v2h-2zM277 452h2v2h-2zM277 453h2v2h-2zM277 455h2v2h-2zM277 457h2v2h-2zM277 458h2v2h-2zM277 459h2v2h-2zM277 464h2v2h-2zM277 465h2v2h-2zM277 468h2v2h-2zM277 469h2v2h-2zM277 471h2v2h-2zM277 473h2v2h-2zM277 474h2v2h-2zM277 476h2v2h-2zM277 477h2v2h-2zM277 482h2v2h-2zM277 500h2v2h-2zM278 400h2v2h-2zM278 401h2v2h-2zM278 408h2v2h-2zM278 409h2v2h-2zM278 411h2v2h-2zM278 414h2v2h-2zM278 415h2v2h-2zM278 416h2v2h-2zM278 418h2v2h-2zM278 419h2v2h-2zM278 421h2v2h-2zM278 424h2v2h-2zM278 427h2v2h-2zM278 428h2v2h-2zM278 432h2v2h-2zM278 433h2v2h-2zM278 434h2v2h-2zM278 435h2v2h-2zM278 436h2v2h-2zM278 439h2v2h-2zM278 440h2v2h-2zM278 441h2v2h-2zM278 442h2v2h-2zM278 443h2v2h-2zM278 445h2v2h-2zM278 446h2v2h-2zM278 447h2v2h-2zM278 448h2v2h-2zM278 449h2v2h-2zM278 450h2v2h-2zM278 451h2v2h-2zM278 453h2v2h-2zM278 454h2v2h-2zM278 455h2v2h-2zM278 456h2v2h-2zM278 458h2v2h-2zM278 461h2v2h-2zM278 462h2v2h-2zM278 463h2v2h-2zM278 464h2v2h-2zM278 465h2v2h-2zM278 467h2v2h-2zM278 468h2v2h-2zM278 470h2v2h-2zM278 472h2v2h-2zM278 474h2v2h-2zM278 477h2v2h-2zM278 478h2v2h-2zM278 481h2v2h-2zM278 485h2v2h-2zM278 491h2v2h-2zM278 494h2v2h-2zM278 503h2v2h-2zM279 400h2v2h-2zM279 402h2v2h-2zM279 408h2v2h-2zM279 411h2v2h-2zM279 412h2v2h-2zM279 413h2v2h-2zM279 416h2v2h-2zM279 420h2v2h-2zM279 422h2v2h-2zM279 423h2v2h-2zM279 424h2v2h-2zM279 425h2v2h-2zM279 428h2v2h-2zM279 430h2v2h-2zM279 431h2v2h-2zM279 432h2v2h-2zM279 434h2v2h-2zM279 435h2v2h-2zM279 436h2v2h-2zM279 437h2v2h-2zM279 440h2v2h-2zM279 442h2v2h-2zM279 443h2v2h-2zM279 444h2v2h-2zM279 445h2v2h-2zM279 446h2v2h-2zM279 447h2v2h-2zM279 448h2v2h-2zM279 450h2v2h-2zM279 451h2v2h-2zM279 453h2v2h-2zM279 454h2v2h-2zM279 458h2v2h-2zM279 460h2v2h-2zM279 461h2v2h-2zM279 463h2v2h-2zM279 465h2v2h-2zM279 466h2v2h-2zM279 467h2v2h-2zM279 468h2v2h-2zM279 474h2v2h-2zM279 475h2v2h-2zM279 476h2v2h-2zM279 477h2v2h-2zM279 479h2v2h-2zM279 489h2v2h-2zM279 509h2v2h-2zM280 408h2v2h-2zM280 412h2v2h-2zM280 413h2v2h-2zM280 415h2v2h-2zM280 416h2v2h-2zM280 417h2v2h-2zM280 418h2v2h-2zM280 419h2v2h-2zM280 420h2v2h-2zM280 421h2v2h-2zM280 422h2v2h-2zM280 424h2v2h-2zM280 425h2v2h-2zM280 426h2v2h-2zM280 427h2v2h-2zM280 428h2v2h-2zM280 429h2v2h-2zM280 430h2v2h-2zM280 431h2v2h-2zM280 434h2v2h-2zM280 435h2v2h-2zM280 438h2v2h-2zM280 439h2v2h-2zM280 441h2v2h-2zM280 444h2v2h-2zM280 446h2v2h-2zM280 447h2v2h-2zM280 448h2v2h-2zM280 449h2v2h-2zM280 450h2v2h-2zM280 451h2v2h-2zM280 452h2v2h-2zM280 453h2v2h-2zM280 454h2v2h-2zM280 455h2v2h-2zM280 457h2v2h-2zM280 458h2v2h-2zM280 459h2v2h-2zM280 463h2v2h-2zM280 464h2v2h-2zM280 466h2v2h-2zM280 467h2v2h-2zM280 469h2v2h-2zM280 470h2v2h-2zM280 471h2v2h-2zM280 473h2v2h-2zM280 477h2v2h-2zM280 478h2v2h-2zM280 485h2v2h-2zM280 487h2v2h-2zM280 491h2v2h-2zM280 492h2v2h-2zM280 496h2v2h-2zM280 508h2v2h-2zM281 402h2v2h-2zM281 404h2v2h-2zM281 407h2v2h-2zM281 411h2v2h-2zM281 416h2v2h-2zM281 418h2v2h-2zM281 419h2v2h-2zM281 420h2v2h-2zM281 425h2v2h-2zM281 426h2v2h-2zM281 427h2v2h-2zM281 429h2v2h-2zM281 430h2v2h-2zM281 432h2v2h-2zM281 433h2v2h-2zM281 434h2v2h-2zM281 435h2v2h-2zM281 437h2v2h-2zM281 439h2v2h-2zM281 440h2v2h-2zM281 442h2v2h-2zM281 444h2v2h-2zM281 446h2v2h-2zM281 449h2v2h-2zM281 450h2v2h-2zM281 452h2v2h-2zM281 456h2v2h-2zM281 458h2v2h-2zM281 459h2v2h-2zM281 460h2v2h-2zM281 462h2v2h-2zM281 465h2v2h-2zM281 467h2v2h-2zM281 469h2v2h-2zM281 471h2v2h-2zM281 472h2v2h-2zM281 474h2v2h-2zM281 479h2v2h-2zM281 481h2v2h-2zM281 483h2v2h-2zM281 486h2v2h-2zM281 494h2v2h-2zM281 505h2v2h-2zM282 400h2v2h-2zM282 409h2v2h-2zM282 411h2v2h-2zM282 415h2v2h-2zM282 417h2v2h-2zM282 419h2v2h-2zM282 420h2v2h-2zM282 421h2v2h-2zM282 422h2v2h-2zM282 423h2v2h-2zM282 428h2v2h-2zM282 432h2v2h-2zM282 433h2v2h-2zM282 434h2v2h-2zM282 435h2v2h-2zM282 436h2v2h-2zM282 437h2v2h-2zM282 440h2v2h-2zM282 441h2v2h-2zM282 443h2v2h-2zM282 444h2v2h-2zM282 445h2v2h-2zM282 446h2v2h-2zM282 448h2v2h-2zM282 451h2v2h-2zM282 452h2v2h-2zM282 453h2v2h-2zM282 454h2v2h-2zM282 455h2v2h-2zM282 456h2v2h-2zM282 457h2v2h-2zM282 458h2v2h-2zM282 459h2v2h-2zM282 461h2v2h-2zM282 462h2v2h-2zM282 463h2v2h-2zM282 465h2v2h-2zM282 466h2v2h-2zM282 468h2v2h-2zM282 470h2v2h-2zM282 471h2v2h-2zM282 472h2v2h-2zM282 473h2v2h-2zM282 476h2v2h-2zM282 480h2v2h-2zM282 482h2v2h-2zM282 483h2v2h-2zM282 488h2v2h-2zM282 492h2v2h-2zM282 497h2v2h-2zM282 499h2v2h-2zM282 501h2v2h-2zM283 398h2v2h-2zM283 407h2v2h-2zM283 411h2v2h-2zM283 414h2v2h-2zM283 415h2v2h-2zM283 416h2v2h-2zM283 417h2v2h-2zM283 419h2v2h-2zM283 421h2v2h-2zM283 423h2v2h-2zM283 425h2v2h-2zM283 427h2v2h-2zM283 429h2v2h-2zM283 430h2v2h-2zM283 431h2v2h-2zM283 432h2v2h-2zM283 433h2v2h-2zM283 434h2v2h-2zM283 436h2v2h-2zM283 437h2v2h-2zM283 439h2v2h-2zM283 440h2v2h-2zM283 441h2v2h-2zM283 442h2v2h-2zM283 446h2v2h-2zM283 447h2v2h-2zM283 449h2v2h-2zM283 450h2v2h-2zM283 452h2v2h-2zM283 453h2v2h-2zM283 454h2v2h-2zM283 455h2v2h-2zM283 459h2v2h-2zM283 461h2v2h-2zM283 463h2v2h-2zM283 466h2v2h-2zM283 469h2v2h-2zM283 470h2v2h-2zM283 471h2v2h-2zM283 473h2v2h-2zM283 476h2v2h-2zM283 477h2v2h-2zM283 479h2v2h-2zM283 481h2v2h-2zM283 483h2v2h-2zM283 484h2v2h-2zM283 485h2v2h-2zM283 488h2v2h-2zM283 491h2v2h-2zM283 498h2v2h-2zM283 499h2v2h-2zM283 501h2v2h-2zM284 189h2v2h-2zM284 392h2v2h-2zM284 414h2v2h-2zM284 418h2v2h-2zM284 419h2v2h-2zM284 420h2v2h-2zM284 423h2v2h-2zM284 424h2v2h-2zM284 426h2v2h-2zM284 427h2v2h-2zM284 428h2v2h-2zM284 429h2v2h-2zM284 431h2v2h-2zM284 432h2v2h-2zM284 433h2v2h-2zM284 434h2v2h-2zM284 436h2v2h-2zM284 437h2v2h-2zM284 438h2v2h-2zM284 439h2v2h-2zM284 441h2v2h-2zM284 442h2v2h-2zM284 443h2v2h-2zM284 445h2v2h-2zM284 447h2v2h-2zM284 448h2v2h-2zM284 449h2v2h-2zM284 450h2v2h-2zM284 451h2v2h-2zM284 452h2v2h-2zM284 453h2v2h-2zM284 455h2v2h-2zM284 456h2v2h-2zM284 457h2v2h-2zM284 458h2v2h-2zM284 459h2v2h-2zM284 460h2v2h-2zM284 461h2v2h-2zM284 463h2v2h-2zM284 464h2v2h-2zM284 466h2v2h-2zM284 467h2v2h-2zM284 468h2v2h-2zM284 470h2v2h-2zM284 473h2v2h-2zM284 475h2v2h-2zM284 478h2v2h-2zM284 480h2v2h-2zM284 486h2v2h-2zM284 503h2v2h-2zM284 508h2v2h-2zM284 510h2v2h-2zM285 410h2v2h-2zM285 414h2v2h-2zM285 415h2v2h-2zM285 421h2v2h-2zM285 422h2v2h-2zM285 425h2v2h-2zM285 426h2v2h-2zM285 427h2v2h-2zM285 431h2v2h-2zM285 432h2v2h-2zM285 435h2v2h-2zM285 436h2v2h-2zM285 440h2v2h-2zM285 442h2v2h-2zM285 443h2v2h-2zM285 444h2v2h-2zM285 445h2v2h-2zM285 447h2v2h-2zM285 448h2v2h-2zM285 451h2v2h-2zM285 452h2v2h-2zM285 458h2v2h-2zM285 459h2v2h-2zM285 460h2v2h-2zM285 464h2v2h-2zM285 465h2v2h-2zM285 466h2v2h-2zM285 467h2v2h-2zM285 469h2v2h-2zM285 473h2v2h-2zM285 475h2v2h-2zM285 478h2v2h-2zM285 479h2v2h-2zM285 481h2v2h-2zM285 485h2v2h-2zM285 488h2v2h-2zM285 490h2v2h-2zM285 494h2v2h-2zM285 495h2v2h-2zM285 507h2v2h-2zM286 154h2v2h-2zM286 412h2v2h-2zM286 415h2v2h-2zM286 417h2v2h-2zM286 419h2v2h-2zM286 420h2v2h-2zM286 424h2v2h-2zM286 426h2v2h-2zM286 429h2v2h-2zM286 431h2v2h-2zM286 432h2v2h-2zM286 433h2v2h-2zM286 436h2v2h-2zM286 438h2v2h-2zM286 439h2v2h-2zM286 440h2v2h-2zM286 442h2v2h-2zM286 443h2v2h-2zM286 446h2v2h-2zM286 447h2v2h-2zM286 448h2v2h-2zM286 449h2v2h-2zM286 450h2v2h-2zM286 451h2v2h-2zM286 452h2v2h-2zM286 454h2v2h-2zM286 457h2v2h-2zM286 459h2v2h-2zM286 462h2v2h-2zM286 464h2v2h-2zM286 468h2v2h-2zM286 472h2v2h-2zM286 473h2v2h-2zM286 474h2v2h-2zM286 481h2v2h-2zM286 482h2v2h-2zM286 493h2v2h-2zM286 503h2v2h-2zM287 411h2v2h-2zM287 413h2v2h-2zM287 415h2v2h-2zM287 417h2v2h-2zM287 421h2v2h-2zM287 422h2v2h-2zM287 423h2v2h-2zM287 425h2v2h-2zM287 428h2v2h-2zM287 430h2v2h-2zM287 431h2v2h-2zM287 433h2v2h-2zM287 434h2v2h-2zM287 435h2v2h-2zM287 437h2v2h-2zM287 439h2v2h-2zM287 440h2v2h-2zM287 441h2v2h-2zM287 442h2v2h-2zM287 443h2v2h-2zM287 444h2v2h-2zM287 445h2v2h-2zM287 446h2v2h-2zM287 448h2v2h-2zM287 450h2v2h-2zM287 451h2v2h-2zM287 453h2v2h-2zM287 454h2v2h-2zM287 455h2v2h-2zM287 457h2v2h-2zM287 458h2v2h-2zM287 462h2v2h-2zM287 463h2v2h-2zM287 465h2v2h-2zM287 467h2v2h-2zM287 468h2v2h-2zM287 470h2v2h-2zM287 472h2v2h-2zM287 473h2v2h-2zM287 474h2v2h-2zM287 476h2v2h-2zM287 478h2v2h-2zM287 479h2v2h-2zM287 481h2v2h-2zM287 484h2v2h-2zM288 160h2v2h-2zM288 405h2v2h-2zM288 407h2v2h-2zM288 410h2v2h-2zM288 412h2v2h-2zM288 413h2v2h-2zM288 414h2v2h-2zM288 418h2v2h-2zM288 420h2v2h-2zM288 421h2v2h-2zM288 423h2v2h-2zM288 424h2v2h-2zM288 426h2v2h-2zM288 429h2v2h-2zM288 430h2v2h-2zM288 432h2v2h-2zM288 434h2v2h-2zM288 435h2v2h-2zM288 436h2v2h-2zM288 437h2v2h-2zM288 438h2v2h-2zM288 440h2v2h-2zM288 443h2v2h-2zM288 444h2v2h-2zM288 450h2v2h-2zM288 451h2v2h-2zM288 452h2v2h-2zM288 453h2v2h-2zM288 456h2v2h-2zM288 457h2v2h-2zM288 458h2v2h-2zM288 459h2v2h-2zM288 460h2v2h-2zM288 461h2v2h-2zM288 462h2v2h-2zM288 464h2v2h-2zM288 466h2v2h-2zM288 467h2v2h-2zM288 469h2v2h-2zM288 471h2v2h-2zM288 472h2v2h-2zM288 474h2v2h-2zM288 475h2v2h-2zM288 480h2v2h-2zM288 482h2v2h-2zM288 487h2v2h-2zM288 489h2v2h-2zM288 504h2v2h-2zM289 418h2v2h-2zM289 419h2v2h-2zM289 422h2v2h-2zM289 425h2v2h-2zM289 426h2v2h-2zM289 428h2v2h-2zM289 432h2v2h-2zM289 433h2v2h-2zM289 436h2v2h-2zM289 438h2v2h-2zM289 439h2v2h-2zM289 441h2v2h-2zM289 442h2v2h-2zM289 443h2v2h-2zM289 444h2v2h-2zM289 445h2v2h-2zM289 446h2v2h-2zM289 447h2v2h-2zM289 448h2v2h-2zM289 449h2v2h-2zM289 451h2v2h-2zM289 452h2v2h-2zM289 453h2v2h-2zM289 454h2v2h-2zM289 456h2v2h-2zM289 457h2v2h-2zM289 459h2v2h-2zM289 463h2v2h-2zM289 464h2v2h-2zM289 465h2v2h-2zM289 466h2v2h-2zM289 467h2v2h-2zM289 471h2v2h-2zM289 473h2v2h-2zM289 476h2v2h-2zM289 488h2v2h-2zM289 492h2v2h-2zM290 405h2v2h-2zM290 414h2v2h-2zM290 418h2v2h-2zM290 420h2v2h-2zM290 432h2v2h-2zM290 433h2v2h-2zM290 436h2v2h-2zM290 438h2v2h-2zM290 440h2v2h-2zM290 442h2v2h-2zM290 443h2v2h-2zM290 445h2v2h-2zM290 446h2v2h-2zM290 447h2v2h-2zM290 448h2v2h-2zM290 450h2v2h-2zM290 451h2v2h-2zM290 452h2v2h-2zM290 453h2v2h-2zM290 455h2v2h-2zM290 458h2v2h-2zM290 459h2v2h-2zM290 460h2v2h-2zM290 463h2v2h-2zM290 465h2v2h-2zM290 466h2v2h-2zM290 473h2v2h-2zM290 479h2v2h-2zM290 483h2v2h-2zM290 493h2v2h-2zM291 404h2v2h-2zM291 410h2v2h-2zM291 412h2v2h-2zM291 418h2v2h-2zM291 420h2v2h-2zM291 422h2v2h-2zM291 423h2v2h-2zM291 424h2v2h-2zM291 425h2v2h-2zM291 427h2v2h-2zM291 428h2v2h-2zM291 429h2v2h-2zM291 430h2v2h-2zM291 431h2v2h-2zM291 432h2v2h-2zM291 434h2v2h-2zM291 438h2v2h-2zM291 439h2v2h-2zM291 440h2v2h-2zM291 445h2v2h-2zM291 447h2v2h-2zM291 450h2v2h-2zM291 455h2v2h-2zM291 458h2v2h-2zM291 462h2v2h-2zM291 463h2v2h-2zM291 464h2v2h-2zM291 469h2v2h-2zM291 471h2v2h-2zM291 473h2v2h-2zM291 476h2v2h-2zM291 479h2v2h-2zM291 494h2v2h-2zM291 495h2v2h-2zM291 502h2v2h-2zM292 416h2v2h-2zM292 418h2v2h-2zM292 426h2v2h-2zM292 427h2v2h-2zM292 429h2v2h-2zM292 433h2v2h-2zM292 436h2v2h-2zM292 443h2v2h-2zM292 444h2v2h-2zM292 446h2v2h-2zM292 451h2v2h-2zM292 461h2v2h-2zM292 475h2v2h-2zM292 476h2v2h-2zM292 481h2v2h-2zM292 484h2v2h-2zM292 488h2v2h-2zM292 510h2v2h-2zM293 146h2v2h-2zM293 411h2v2h-2zM293 421h2v2h-2zM293 422h2v2h-2zM293 423h2v2h-2zM293 424h2v2h-2zM293 425h2v2h-2zM293 429h2v2h-2zM293 431h2v2h-2zM293 437h2v2h-2zM293 438h2v2h-2zM293 439h2v2h-2zM293 440h2v2h-2zM293 441h2v2h-2zM293 449h2v2h-2zM293 452h2v2h-2zM293 453h2v2h-2zM293 454h2v2h-2zM293 456h2v2h-2zM293 457h2v2h-2zM293 460h2v2h-2zM293 461h2v2h-2zM293 462h2v2h-2zM293 463h2v2h-2zM293 464h2v2h-2zM293 466h2v2h-2zM293 467h2v2h-2zM293 471h2v2h-2zM293 478h2v2h-2zM293 484h2v2h-2zM293 494h2v2h-2zM294 420h2v2h-2zM294 430h2v2h-2zM294 431h2v2h-2zM294 434h2v2h-2zM294 438h2v2h-2zM294 441h2v2h-2zM294 442h2v2h-2zM294 445h2v2h-2zM294 448h2v2h-2zM294 453h2v2h-2zM294 454h2v2h-2zM294 455h2v2h-2zM294 458h2v2h-2zM294 460h2v2h-2zM294 463h2v2h-2zM294 464h2v2h-2zM294 476h2v2h-2zM294 492h2v2h-2zM295 135h2v2h-2zM295 140h2v2h-2zM295 427h2v2h-2zM295 428h2v2h-2zM295 430h2v2h-2zM295 431h2v2h-2zM295 433h2v2h-2zM295 434h2v2h-2zM295 435h2v2h-2zM295 439h2v2h-2zM295 440h2v2h-2zM295 441h2v2h-2zM295 445h2v2h-2zM295 446h2v2h-2zM295 447h2v2h-2zM295 449h2v2h-2zM295 451h2v2h-2zM295 452h2v2h-2zM295 454h2v2h-2zM295 458h2v2h-2zM295 459h2v2h-2zM295 463h2v2h-2zM295 464h2v2h-2zM295 465h2v2h-2zM295 470h2v2h-2zM295 474h2v2h-2zM295 478h2v2h-2zM295 479h2v2h-2zM295 496h2v2h-2zM296 415h2v2h-2zM296 419h2v2h-2zM296 423h2v2h-2zM296 427h2v2h-2zM296 430h2v2h-2zM296 432h2v2h-2zM296 435h2v2h-2zM296 441h2v2h-2zM296 443h2v2h-2zM296 445h2v2h-2zM296 446h2v2h-2zM296 450h2v2h-2zM296 451h2v2h-2zM296 453h2v2h-2zM296 454h2v2h-2zM296 455h2v2h-2zM296 456h2v2h-2zM296 458h2v2h-2zM296 460h2v2h-2zM296 462h2v2h-2zM296 466h2v2h-2zM296 468h2v2h-2zM296 469h2v2h-2zM296 471h2v2h-2zM296 476h2v2h-2zM296 478h2v2h-2zM296 493h2v2h-2zM296 494h2v2h-2zM296 495h2v2h-2zM297 125h2v2h-2zM297 419h2v2h-2zM297 421h2v2h-2zM297 422h2v2h-2zM297 424h2v2h-2zM297 426h2v2h-2zM297 427h2v2h-2zM297 429h2v2h-2zM297 431h2v2h-2zM297 433h2v2h-2zM297 434h2v2h-2zM297 435h2v2h-2zM297 436h2v2h-2zM297 437h2v2h-2zM297 438h2v2h-2zM297 442h2v2h-2zM297 443h2v2h-2zM297 445h2v2h-2zM297 446h2v2h-2zM297 453h2v2h-2zM297 457h2v2h-2zM297 458h2v2h-2zM297 459h2v2h-2zM297 460h2v2h-2zM297 461h2v2h-2zM297 463h2v2h-2zM297 469h2v2h-2zM297 476h2v2h-2zM297 481h2v2h-2zM297 489h2v2h-2zM297 495h2v2h-2zM297 498h2v2h-2zM298 412h2v2h-2zM298 433h2v2h-2zM298 436h2v2h-2zM298 437h2v2h-2zM298 439h2v2h-2zM298 442h2v2h-2zM298 443h2v2h-2zM298 445h2v2h-2zM298 446h2v2h-2zM298 448h2v2h-2zM298 451h2v2h-2zM298 452h2v2h-2zM298 464h2v2h-2zM298 467h2v2h-2zM298 474h2v2h-2zM298 479h2v2h-2zM298 481h2v2h-2zM298 483h2v2h-2zM299 160h2v2h-2zM299 418h2v2h-2zM299 419h2v2h-2zM299 421h2v2h-2zM299 425h2v2h-2zM299 429h2v2h-2zM299 434h2v2h-2zM299 436h2v2h-2zM299 437h2v2h-2zM299 438h2v2h-2zM299 440h2v2h-2zM299 441h2v2h-2zM299 443h2v2h-2zM299 445h2v2h-2zM299 448h2v2h-2zM299 450h2v2h-2zM299 451h2v2h-2zM299 452h2v2h-2zM299 461h2v2h-2zM299 464h2v2h-2zM299 466h2v2h-2zM299 470h2v2h-2zM299 473h2v2h-2zM299 476h2v2h-2zM299 480h2v2h-2zM299 488h2v2h-2zM299 506h2v2h-2zM300 399h2v2h-2zM300 415h2v2h-2zM300 417h2v2h-2zM300 423h2v2h-2zM300 424h2v2h-2zM300 430h2v2h-2zM300 432h2v2h-2zM300 433h2v2h-2zM300 434h2v2h-2zM300 435h2v2h-2zM300 439h2v2h-2zM300 443h2v2h-2zM300 445h2v2h-2zM300 446h2v2h-2zM300 453h2v2h-2zM300 458h2v2h-2zM300 461h2v2h-2zM300 467h2v2h-2zM300 472h2v2h-2zM300 477h2v2h-2zM300 478h2v2h-2zM300 479h2v2h-2zM300 491h2v2h-2zM300 493h2v2h-2zM300 500h2v2h-2zM301 160h2v2h-2zM301 414h2v2h-2zM301 415h2v2h-2zM301 422h2v2h-2zM301 426h2v2h-2zM301 428h2v2h-2zM301 429h2v2h-2zM301 432h2v2h-2zM301 436h2v2h-2zM301 439h2v2h-2zM301 443h2v2h-2zM301 444h2v2h-2zM301 446h2v2h-2zM301 448h2v2h-2zM301 450h2v2h-2zM301 454h2v2h-2zM301 457h2v2h-2zM301 460h2v2h-2zM301 463h2v2h-2zM301 464h2v2h-2zM301 465h2v2h-2zM301 466h2v2h-2zM301 470h2v2h-2zM301 474h2v2h-2zM301 480h2v2h-2zM301 493h2v2h-2zM301 494h2v2h-2zM302 419h2v2h-2zM302 423h2v2h-2zM302 425h2v2h-2zM302 426h2v2h-2zM302 429h2v2h-2zM302 430h2v2h-2zM302 432h2v2h-2zM302 442h2v2h-2zM302 443h2v2h-2zM302 445h2v2h-2zM302 450h2v2h-2zM302 451h2v2h-2zM302 457h2v2h-2zM302 460h2v2h-2zM302 465h2v2h-2zM302 471h2v2h-2zM302 477h2v2h-2zM302 484h2v2h-2zM302 492h2v2h-2zM303 432h2v2h-2zM303 440h2v2h-2zM303 441h2v2h-2zM303 451h2v2h-2zM303 453h2v2h-2zM303 462h2v2h-2zM303 464h2v2h-2zM303 465h2v2h-2zM303 475h2v2h-2zM303 489h2v2h-2zM304 409h2v2h-2zM304 424h2v2h-2zM304 426h2v2h-2zM304 430h2v2h-2zM304 437h2v2h-2zM304 438h2v2h-2zM304 448h2v2h-2zM304 453h2v2h-2zM304 457h2v2h-2zM304 458h2v2h-2zM304 472h2v2h-2zM304 474h2v2h-2zM305 412h2v2h-2zM305 421h2v2h-2zM305 431h2v2h-2zM305 433h2v2h-2zM305 434h2v2h-2zM305 436h2v2h-2zM305 439h2v2h-2zM305 442h2v2h-2zM305 445h2v2h-2zM305 446h2v2h-2zM305 453h2v2h-2zM305 459h2v2h-2zM305 464h2v2h-2zM305 465h2v2h-2zM305 466h2v2h-2zM305 469h2v2h-2zM305 474h2v2h-2zM305 477h2v2h-2zM305 485h2v2h-2zM305 487h2v2h-2zM306 411h2v2h-2zM306 422h2v2h-2zM306 429h2v2h-2zM306 440h2v2h-2zM306 444h2v2h-2zM306 445h2v2h-2zM306 448h2v2h-2zM306 449h2v2h-2zM306 453h2v2h-2zM306 456h2v2h-2zM306 458h2v2h-2zM306 465h2v2h-2zM306 466h2v2h-2zM306 483h2v2h-2zM306 489h2v2h-2zM307 127h2v2h-2zM307 156h2v2h-2zM307 174h2v2h-2zM307 215h2v2h-2zM307 401h2v2h-2zM307 424h2v2h-2zM307 425h2v2h-2zM307 429h2v2h-2zM307 430h2v2h-2zM307 435h2v2h-2zM307 441h2v2h-2zM307 442h2v2h-2zM307 445h2v2h-2zM307 447h2v2h-2zM307 450h2v2h-2zM307 459h2v2h-2zM307 464h2v2h-2zM308 172h2v2h-2zM308 429h2v2h-2zM308 430h2v2h-2zM308 436h2v2h-2zM308 451h2v2h-2zM308 453h2v2h-2zM308 455h2v2h-2zM308 459h2v2h-2zM308 479h2v2h-2zM309 140h2v2h-2zM309 397h2v2h-2zM309 422h2v2h-2zM309 430h2v2h-2zM309 432h2v2h-2zM309 433h2v2h-2zM309 436h2v2h-2zM309 447h2v2h-2zM309 456h2v2h-2zM309 465h2v2h-2zM309 466h2v2h-2zM309 473h2v2h-2zM309 478h2v2h-2zM309 485h2v2h-2zM309 486h2v2h-2zM309 500h2v2h-2zM310 424h2v2h-2zM310 430h2v2h-2zM310 438h2v2h-2zM310 447h2v2h-2zM310 451h2v2h-2zM310 477h2v2h-2zM311 410h2v2h-2zM311 415h2v2h-2zM311 416h2v2h-2zM311 443h2v2h-2zM311 444h2v2h-2zM311 448h2v2h-2zM311 489h2v2h-2zM311 503h2v2h-2zM312 432h2v2h-2zM312 446h2v2h-2zM312 458h2v2h-2zM312 469h2v2h-2zM312 471h2v2h-2zM313 433h2v2h-2zM313 441h2v2h-2zM313 447h2v2h-2zM313 453h2v2h-2zM313 470h2v2h-2zM313 471h2v2h-2zM313 477h2v2h-2zM313 481h2v2h-2zM313 484h2v2h-2zM314 150h2v2h-2zM314 172h2v2h-2zM314 436h2v2h-2zM314 443h2v2h-2zM314 457h2v2h-2zM314 477h2v2h-2zM315 408h2v2h-2zM315 422h2v2h-2zM315 432h2v2h-2zM315 449h2v2h-2zM315 452h2v2h-2zM315 460h2v2h-2zM316 434h2v2h-2zM316 439h2v2h-2zM316 442h2v2h-2zM316 445h2v2h-2zM316 446h2v2h-2zM316 448h2v2h-2zM316 450h2v2h-2zM317 412h2v2h-2zM317 421h2v2h-2zM317 427h2v2h-2zM317 434h2v2h-2zM317 439h2v2h-2zM317 451h2v2h-2zM317 454h2v2h-2zM317 456h2v2h-2zM317 480h2v2h-2zM318 158h2v2h-2zM318 417h2v2h-2zM318 432h2v2h-2zM318 448h2v2h-2zM318 487h2v2h-2zM319 403h2v2h-2zM319 408h2v2h-2zM319 424h2v2h-2zM319 474h2v2h-2zM319 475h2v2h-2zM320 136h2v2h-2zM320 170h2v2h-2zM321 414h2v2h-2zM322 164h2v2h-2zM322 401h2v2h-2zM322 459h2v2h-2zM323 434h2v2h-2zM324 139h2v2h-2zM324 180h2v2h-2zM324 429h2v2h-2zM324 449h2v2h-2zM324 450h2v2h-2zM326 168h2v2h-2zM326 395h2v2h-2zM327 425h2v2h-2zM327 463h2v2h-2zM328 389h2v2h-2zM328 473h2v2h-2zM328 507h2v2h-2zM329 148h2v2h-2zM329 154h2v2h-2zM329 158h2v2h-2zM329 440h2v2h-2zM331 166h2v2h-2zM331 486h2v2h-2zM332 399h2v2h-2zM333 133h2v2h-2zM333 136h2v2h-2zM333 144h2v2h-2zM333 162h2v2h-2zM333 428h2v2h-2zM333 440h2v2h-2zM335 196h2v2h-2zM337 127h2v2h-2zM337 135h2v2h-2zM341 144h2v2h-2zM341 154h2v2h-2zM341 170h2v2h-2zM341 469h2v2h-2zM343 148h2v2h-2zM343 150h2v2h-2zM343 158h2v2h-2zM345 125h2v2h-2zM345 166h2v2h-2zM345 186h2v2h-2zM347 172h2v2h-2zM347 204h2v2h-2zM347 436h2v2h-2zM349 444h2v2h-2zM350 166h2v2h-2zM350 180h2v2h-2zM352 162h2v2h-2zM352 168h2v2h-2zM353 83h2v2h-2zM353 438h2v2h-2zM354 156h2v2h-2zM354 172h2v2h-2zM356 138h2v2h-2zM356 160h2v2h-2zM356 176h2v2h-2zM358 140h2v2h-2zM358 152h2v2h-2zM358 479h2v2h-2zM360 144h2v2h-2zM362 150h2v2h-2zM362 184h2v2h-2zM362 197h2v2h-2zM362 418h2v2h-2zM364 142h2v2h-2zM364 168h2v2h-2zM364 178h2v2h-2zM365 125h2v2h-2zM365 138h2v2h-2zM366 188h2v2h-2zM368 121h2v2h-2zM368 144h2v2h-2zM368 150h2v2h-2zM368 156h2v2h-2zM368 164h2v2h-2zM368 180h2v2h-2zM369 158h2v2h-2zM371 152h2v2h-2zM371 209h2v2h-2zM373 81h2v2h-2zM373 127h2v2h-2zM375 152h2v2h-2zM375 420h2v2h-2zM377 138h2v2h-2zM377 162h2v2h-2zM377 178h2v2h-2zM381 145h2v2h-2zM383 125h2v2h-2zM383 161h2v2h-2zM384 134h2v2h-2zM384 135h2v2h-2zM384 171h2v2h-2zM384 176h2v2h-2zM384 182h2v2h-2zM385 162h2v2h-2zM387 142h2v2h-2zM387 151h2v2h-2zM387 161h2v2h-2zM388 139h2v2h-2zM388 154h2v2h-2zM388 186h2v2h-2zM389 143h2v2h-2zM389 146h2v2h-2zM389 161h2v2h-2zM389 166h2v2h-2zM389 169h2v2h-2zM391 148h2v2h-2zM391 151h2v2h-2zM391 174h2v2h-2zM392 151h2v2h-2zM392 156h2v2h-2zM392 158h2v2h-2zM392 163h2v2h-2zM392 177h2v2h-2zM393 143h2v2h-2zM393 151h2v2h-2zM393 152h2v2h-2zM394 136h2v2h-2zM394 141h2v2h-2zM396 163h2v2h-2zM396 168h2v2h-2zM397 144h2v2h-2zM397 159h2v2h-2zM397 174h2v2h-2zM397 483h2v2h-2zM398 166h2v2h-2zM399 157h2v2h-2zM399 166h2v2h-2zM400 126h2v2h-2zM400 165h2v2h-2zM400 175h2v2h-2zM401 144h2v2h-2zM401 151h2v2h-2zM401 155h2v2h-2zM401 168h2v2h-2zM401 175h2v2h-2zM402 135h2v2h-2zM402 161h2v2h-2zM403 155h2v2h-2zM404 159h2v2h-2zM405 138h2v2h-2zM405 179h2v2h-2zM406 162h2v2h-2zM406 174h2v2h-2zM407 158h2v2h-2zM407 161h2v2h-2zM407 163h2v2h-2zM408 148h2v2h-2zM408 150h2v2h-2zM408 159h2v2h-2zM409 153h2v2h-2zM409 161h2v2h-2zM409 166h2v2h-2zM409 180h2v2h-2zM410 137h2v2h-2zM410 155h2v2h-2zM410 169h2v2h-2zM412 143h2v2h-2zM413 126h2v2h-2zM413 138h2v2h-2zM413 153h2v2h-2zM413 163h2v2h-2zM413 164h2v2h-2zM413 167h2v2h-2zM416 152h2v2h-2zM416 156h2v2h-2zM417 165h2v2h-2zM418 172h2v2h-2zM419 143h2v2h-2zM419 168h2v2h-2zM420 145h2v2h-2zM420 150h2v2h-2zM421 135h2v2h-2zM421 160h2v2h-2zM422 174h2v2h-2zM423 170h2v2h-2zM424 141h2v2h-2zM424 151h2v2h-2zM424 152h2v2h-2zM424 154h2v2h-2zM425 146h2v2h-2zM425 192h2v2h-2zM426 133h2v2h-2zM426 161h2v2h-2zM427 125h2v2h-2zM427 144h2v2h-2zM427 155h2v2h-2zM427 159h2v2h-2zM428 161h2v2h-2zM428 162h2v2h-2zM428 166h2v2h-2zM428 200h2v2h-2zM429 137h2v2h-2zM429 144h2v2h-2zM429 151h2v2h-2zM429 179h2v2h-2zM430 135h2v2h-2zM430 142h2v2h-2zM430 155h2v2h-2zM430 164h2v2h-2zM430 171h2v2h-2zM430 188h2v2h-2zM431 136h2v2h-2zM431 145h2v2h-2zM431 181h2v2h-2zM432 131h2v2h-2zM432 141h2v2h-2zM432 157h2v2h-2zM433 147h2v2h-2zM433 154h2v2h-2zM433 157h2v2h-2zM433 158h2v2h-2zM434 120h2v2h-2zM434 136h2v2h-2zM434 150h2v2h-2zM435 133h2v2h-2zM435 134h2v2h-2zM435 142h2v2h-2zM435 175h2v2h-2zM436 145h2v2h-2zM436 148h2v2h-2zM436 165h2v2h-2zM436 170h2v2h-2zM438 132h2v2h-2zM438 145h2v2h-2zM438 165h2v2h-2zM438 166h2v2h-2zM440 142h2v2h-2zM440 152h2v2h-2zM440 167h2v2h-2zM442 144h2v2h-2zM442 150h2v2h-2zM442 153h2v2h-2zM442 154h2v2h-2zM442 176h2v2h-2zM442 177h2v2h-2zM442 197h2v2h-2zM443 146h2v2h-2zM443 147h2v2h-2zM443 157h2v2h-2zM444 146h2v2h-2zM445 171h2v2h-2zM445 197h2v2h-2zM446 162h2v2h-2zM447 145h2v2h-2zM447 161h2v2h-2zM447 179h2v2h-2zM448 158h2v2h-2zM449 168h2v2h-2zM449 171h2v2h-2zM449 189h2v2h-2zM450 147h2v2h-2zM451 165h2v2h-2zM452 141h2v2h-2zM452 155h2v2h-2zM452 157h2v2h-2zM453 133h2v2h-2zM453 146h2v2h-2zM454 138h2v2h-2zM454 147h2v2h-2zM454 159h2v2h-2zM454 167h2v2h-2zM455 126h2v2h-2zM455 142h2v2h-2zM455 170h2v2h-2zM455 174h2v2h-2zM456 149h2v2h-2zM456 155h2v2h-2zM456 164h2v2h-2zM457 141h2v2h-2zM457 144h2v2h-2zM457 152h2v2h-2zM457 154h2v2h-2zM458 149h2v2h-2zM458 153h2v2h-2zM458 164h2v2h-2zM459 139h2v2h-2zM459 143h2v2h-2zM459 152h2v2h-2zM459 158h2v2h-2zM459 159h2v2h-2zM459 162h2v2h-2zM460 161h2v2h-2zM461 145h2v2h-2zM461 147h2v2h-2zM461 159h2v2h-2zM461 166h2v2h-2zM461 184h2v2h-2zM461 192h2v2h-2zM462 142h2v2h-2zM462 158h2v2h-2zM462 163h2v2h-2zM462 170h2v2h-2zM463 139h2v2h-2zM463 147h2v2h-2zM463 155h2v2h-2zM463 164h2v2h-2zM463 169h2v2h-2zM463 177h2v2h-2zM464 124h2v2h-2zM464 148h2v2h-2zM464 150h2v2h-2zM465 161h2v2h-2zM466 134h2v2h-2zM466 144h2v2h-2zM466 149h2v2h-2zM466 152h2v2h-2zM467 134h2v2h-2zM467 147h2v2h-2zM467 155h2v2h-2zM468 143h2v2h-2zM468 149h2v2h-2zM469 168h2v2h-2zM470 132h2v2h-2zM471 131h2v2h-2zM471 134h2v2h-2zM471 139h2v2h-2zM471 150h2v2h-2zM471 155h2v2h-2zM471 173h2v2h-2zM472 151h2v2h-2zM472 167h2v2h-2zM473 126h2v2h-2zM473 128h2v2h-2zM473 141h2v2h-2zM473 147h2v2h-2zM474 154h2v2h-2zM475 163h2v2h-2zM476 128h2v2h-2zM476 142h2v2h-2zM476 159h2v2h-2zM477 132h2v2h-2zM477 139h2v2h-2zM477 156h2v2h-2zM477 175h2v2h-2zM477 179h2v2h-2zM478 148h2v2h-2zM479 129h2v2h-2zM479 148h2v2h-2zM479 149h2v2h-2zM479 160h2v2h-2zM479 162h2v2h-2zM480 160h2v2h-2zM480 165h2v2h-2zM480 166h2v2h-2zM480 169h2v2h-2zM482 143h2v2h-2zM482 146h2v2h-2zM482 158h2v2h-2zM483 153h2v2h-2zM483 159h2v2h-2zM483 162h2v2h-2zM483 169h2v2h-2zM484 143h2v2h-2zM484 159h2v2h-2zM484 162h2v2h-2zM485 141h2v2h-2zM485 150h2v2h-2zM485 154h2v2h-2zM485 156h2v2h-2zM485 173h2v2h-2zM486 142h2v2h-2zM486 160h2v2h-2zM486 164h2v2h-2zM487 132h2v2h-2zM488 137h2v2h-2zM488 150h2v2h-2zM488 152h2v2h-2zM489 137h2v2h-2zM489 152h2v2h-2zM489 165h2v2h-2zM490 136h2v2h-2zM491 156h2v2h-2zM492 164h2v2h-2zM493 141h2v2h-2zM493 146h2v2h-2zM493 164h2v2h-2zM493 176h2v2h-2zM493 186h2v2h-2zM494 152h2v2h-2zM494 163h2v2h-2zM494 165h2v2h-2zM494 172h2v2h-2zM495 173h2v2h-2zM496 144h2v2h-2zM496 152h2v2h-2zM496 159h2v2h-2zM497 151h2v2h-2zM497 161h2v2h-2zM497 167h2v2h-2zM498 133h2v2h-2zM498 144h2v2h-2zM498 169h2v2h-2zM499 144h2v2h-2zM500 136h2v2h-2zM500 148h2v2h-2zM500 152h2v2h-2zM500 159h2v2h-2zM500 172h2v2h-2zM501 170h2v2h-2zM502 144h2v2h-2zM502 150h2v2h-2zM502 163h2v2h-2zM502 168h2v2h-2zM504 144h2v2h-2zM505 131h2v2h-2zM505 148h2v2h-2zM505 154h2v2h-2zM505 166h2v2h-2zM506 136h2v2h-2zM506 167h2v2h-2zM506 172h2v2h-2zM508 105h2v2h-2zM508 114h2v2h-2zM508 131h2v2h-2zM508 154h2v2h-2zM508 160h2v2h-2zM509 133h2v2h-2zM509 135h2v2h-2zM509 143h2v2h-2zM509 144h2v2h-2zM509 151h2v2h-2zM509 160h2v2h-2zM510 137h2v2h-2zM510 171h2v2h-2zM511 135h2v2h-2zM511 142h2v2h-2zM511 148h2v2h-2zM511 150h2v2h-2zM511 157h2v2h-2zM511 165h2v2h-2zM511 170h2v2h-2zM512 138h2v2h-2zM512 152h2v2h-2zM513 138h2v2h-2zM513 168h2v2h-2zM513 170h2v2h-2zM514 146h2v2h-2zM515 89h2v2h-2zM516 152h2v2h-2zM516 168h2v2h-2zM517 139h2v2h-2zM519 156h2v2h-2zM519 162h2v2h-2zM519 173h2v2h-2zM520 149h2v2h-2zM520 152h2v2h-2zM520 163h2v2h-2zM521 144h2v2h-2zM521 163h2v2h-2zM522 141h2v2h-2zM523 133h2v2h-2zM523 144h2v2h-2zM524 141h2v2h-2zM525 178h2v2h-2zM527 123h2v2h-2zM527 147h2v2h-2zM528 138h2v2h-2zM529 165h2v2h-2zM531 139h2v2h-2zM532 154h2v2h-2zM532 179h2v2h-2zM533 144h2v2h-2zM533 148h2v2h-2zM533 157h2v2h-2zM533 159h2v2h-2zM533 189h2v2h-2zM533 190h2v2h-2zM536 135h2v2h-2zM536 149h2v2h-2zM537 146h2v2h-2zM537 148h2v2h-2zM538 132h2v2h-2zM538 138h2v2h-2zM538 158h2v2h-2zM538 160h2v2h-2zM538 161h2v2h-2zM540 151h2v2h-2zM540 155h2v2h-2zM541 148h2v2h-2zM541 163h2v2h-2zM542 171h2v2h-2zM543 149h2v2h-2zM544 171h2v2h-2zM545 145h2v2h-2zM545 146h2v2h-2zM545 147h2v2h-2zM546 122h2v2h-2zM546 163h2v2h-2zM547 143h2v2h-2zM547 153h2v2h-2zM547 158h2v2h-2zM547 163h2v2h-2zM547 170h2v2h-2zM548 152h2v2h-2zM549 116h2v2h-2zM549 157h2v2h-2zM551 165h2v2h-2zM552 173h2v2h-2zM554 165h2v2h-2zM555 161h2v2h-2zM557 169h2v2h-2zM566 135h2v2h-2zM567 183h2v2h-2zM567 185h2v2h-2zM575 138h2v2h-2zM582 180h2v2h-2zM583 179h2v2h-2z" fill="#48138e"/>
<rect x="196.6" y="12.7" width="483.60" height="500.30" fill="none" stroke="#000" stroke-width="2.7"/>
<path d="M189.5 476.04H196.6M230.95 513.0V520.5M189.5 454.63H196.6M251.73 513.0V520.5M189.5 438.48H196.6M267.40 513.0V520.5M189.5 427.21H196.6M278.33 513.0V520.5M189.5 417.20H196.6M288.06 513.0V520.5M189.5 408.43H196.6M296.56 513.0V520.5M189.5 402.92H196.6M301.91 513.0V520.5M189.5 394.28H196.6M310.29 513.0V520.5M189.5 350.78H196.6M352.69 513.0V520.5M189.5 329.34H196.6M373.60 513.0V520.5M189.5 313.16H196.6M389.38 513.0V520.5M189.5 301.87H196.6M400.39 513.0V520.5M189.5 291.84H196.6M410.17 513.0V520.5M189.5 283.06H196.6M418.73 513.0V520.5M189.5 277.55H196.6M424.11 513.0V520.5M189.5 268.89H196.6M432.55 513.0V520.5M189.5 225.43H196.6M474.24 513.0V520.5M189.5 204.01H196.6M494.73 513.0V520.5M189.5 187.85H196.6M510.18 513.0V520.5M189.5 176.58H196.6M520.96 513.0V520.5M189.5 166.56H196.6M530.55 513.0V520.5M189.5 157.79H196.6M538.93 513.0V520.5M189.5 152.28H196.6M544.20 513.0V520.5M189.5 143.64H196.6M552.47 513.0V520.5M189.5 100.23H196.6M594.67 513.0V520.5M189.5 78.85H196.6M615.51 513.0V520.5M189.5 62.72H196.6M631.24 513.0V520.5M189.5 51.47H196.6M642.21 513.0V520.5M189.5 41.46H196.6M651.96 513.0V520.5M189.5 32.71H196.6M660.50 513.0V520.5M189.5 27.21H196.6M665.86 513.0V520.5M189.5 18.58H196.6M674.27 513.0V520.5M181 388.40H196.6M316.00 513.0V528.5M181 263.00H196.6M438.30 513.0V528.5M181 137.75H196.6M558.10 513.0V528.5M181 12.70H196.6M680.00 513.0V528.5" stroke="#000" stroke-width="2.7" fill="none"/>
<path d="M381.5 12.7V513.0M196.6 294.1H680.2" stroke="#000" stroke-width="2.7" fill="none"/>
<path d="M150.65 20.60V4.70L146.30 9.00M161.50 5.85a4.0 6.75 0 1 0 0.01 0zM150.65 145.65V129.75L146.30 134.05M161.50 130.90a4.0 6.75 0 1 0 0.01 0zM150.65 270.90V255.00L146.30 259.30M161.50 256.15a4.0 6.75 0 1 0 0.01 0zM150.65 396.30V380.40L146.30 384.70M161.50 381.55a4.0 6.75 0 1 0 0.01 0zM306.95 554.90V539.00L302.60 543.30M317.80 540.15a4.0 6.75 0 1 0 0.01 0zM429.25 554.90V539.00L424.90 543.30M440.10 540.15a4.0 6.75 0 1 0 0.01 0zM549.05 554.90V539.00L544.70 543.30M559.90 540.15a4.0 6.75 0 1 0 0.01 0zM670.95 554.90V539.00L666.60 543.30M681.80 540.15a4.0 6.75 0 1 0 0.01 0z" stroke="#000" stroke-width="2.1" stroke-linejoin="bevel" fill="none"/>
<path d="M172.40 261.50V250.60L169.00 253.90M451.00 545.50V534.60L447.60 537.90" stroke="#000" stroke-width="1.5" stroke-linejoin="bevel" fill="none"/>
<text transform="translate(168.10 12.00) scale(0.78 1.04)" class="sup">3</text>
<text transform="translate(168.10 137.05) scale(0.85 1.04)" class="sup">2</text>
<text transform="translate(168.10 387.70) scale(0.9 1.04)" class="sup">0</text>
<text transform="translate(324.40 546.30) scale(0.9 1.04)" class="sup">0</text>
<text transform="translate(566.50 546.30) scale(0.85 1.04)" class="sup">2</text>
<text transform="translate(688.40 546.30) scale(0.78 1.04)" class="sup">3</text>
<text transform="translate(379.3 593.2) scale(0.948 1)" class="ax">IgM-BIOT</text>
<text transform="translate(124.8 317.3) rotate(-90) scale(0.90 1)" class="ax">CD19-PE</text>
</svg></body></html>
